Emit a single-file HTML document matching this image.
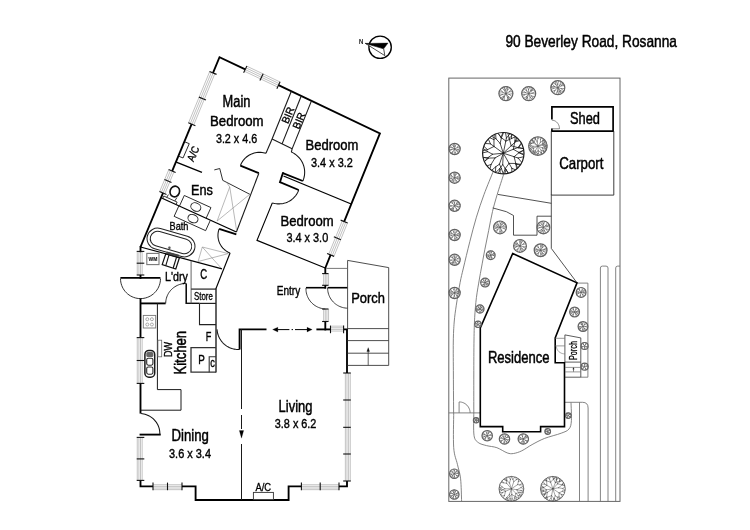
<!DOCTYPE html>
<html><head><meta charset="utf-8"><title>90 Beverley Road, Rosanna</title>
<style>
html,body{margin:0;padding:0;background:#fff;}
body{width:750px;height:530px;overflow:hidden;}
svg{display:block;filter:grayscale(1);}
text{font-family:"Liberation Sans",sans-serif;}
</style></head><body>
<svg width="750" height="530" viewBox="0 0 750 530">
<rect x="0" y="0" width="750" height="530" fill="#fff"/>
<g id="floor">
<path d="M213.02,72.92 L219.5,57.2 L245.25,69.42" fill="none" stroke="#000" stroke-width="1.85" stroke-linejoin="miter" stroke-linecap="butt"/>
<line x1="246.79" y1="66.17" x2="280.03" y2="81.96" stroke="#777" stroke-width="0.45" stroke-linecap="butt"/>
<line x1="245.99" y1="67.86" x2="279.23" y2="83.64" stroke="#777" stroke-width="0.45" stroke-linecap="butt"/>
<line x1="245.19" y1="69.55" x2="278.43" y2="85.33" stroke="#777" stroke-width="0.45" stroke-linecap="butt"/>
<line x1="244.39" y1="71.23" x2="277.63" y2="87.02" stroke="#777" stroke-width="0.45" stroke-linecap="butt"/>
<line x1="246.88" y1="65.99" x2="243.62" y2="72.86" stroke="#111" stroke-width="1.1" stroke-linecap="butt"/>
<line x1="263.16" y1="73.73" x2="259.9" y2="80.59" stroke="#111" stroke-width="1.1" stroke-linecap="butt"/>
<line x1="280.12" y1="81.78" x2="276.86" y2="88.64" stroke="#111" stroke-width="1.1" stroke-linecap="butt"/>
<path d="M278.49,85.21 L379.93,133.38 L344.15,221.56" fill="none" stroke="#000" stroke-width="1.85" stroke-linejoin="miter" stroke-linecap="butt"/>
<line x1="347.48" y1="222.91" x2="333.94" y2="256.3" stroke="#777" stroke-width="0.45" stroke-linecap="butt"/>
<line x1="345.75" y1="222.21" x2="332.21" y2="255.59" stroke="#777" stroke-width="0.45" stroke-linecap="butt"/>
<line x1="344.02" y1="221.51" x2="330.48" y2="254.89" stroke="#777" stroke-width="0.45" stroke-linecap="butt"/>
<line x1="342.29" y1="220.8" x2="328.75" y2="254.19" stroke="#777" stroke-width="0.45" stroke-linecap="butt"/>
<line x1="347.67" y1="222.98" x2="340.63" y2="220.13" stroke="#111" stroke-width="1.1" stroke-linecap="butt"/>
<line x1="340.89" y1="239.68" x2="333.85" y2="236.82" stroke="#111" stroke-width="1.1" stroke-linecap="butt"/>
<line x1="334.12" y1="256.37" x2="327.08" y2="253.51" stroke="#111" stroke-width="1.1" stroke-linecap="butt"/>
<line x1="330.6" y1="254.94" x2="325.3" y2="268" stroke="#000" stroke-width="1.85" stroke-linecap="butt"/>
<line x1="214.87" y1="73.68" x2="193.72" y2="124.99" stroke="#777" stroke-width="0.45" stroke-linecap="butt"/>
<line x1="213.15" y1="72.97" x2="192" y2="124.28" stroke="#777" stroke-width="0.45" stroke-linecap="butt"/>
<line x1="211.42" y1="72.26" x2="190.27" y2="123.57" stroke="#777" stroke-width="0.45" stroke-linecap="butt"/>
<line x1="209.69" y1="71.55" x2="188.54" y2="122.86" stroke="#777" stroke-width="0.45" stroke-linecap="butt"/>
<line x1="216.54" y1="74.37" x2="209.51" y2="71.47" stroke="#111" stroke-width="1.1" stroke-linecap="butt"/>
<line x1="205.96" y1="100.02" x2="198.93" y2="97.13" stroke="#111" stroke-width="1.1" stroke-linecap="butt"/>
<line x1="195.39" y1="125.68" x2="188.36" y2="122.78" stroke="#111" stroke-width="1.1" stroke-linecap="butt"/>
<line x1="191.62" y1="124.19" x2="172.12" y2="171.04" stroke="#000" stroke-width="1.85" stroke-linecap="butt"/>
<line x1="173.96" y1="171.81" x2="164.81" y2="193.8" stroke="#777" stroke-width="0.45" stroke-linecap="butt"/>
<line x1="172.24" y1="171.09" x2="163.08" y2="193.09" stroke="#777" stroke-width="0.45" stroke-linecap="butt"/>
<line x1="170.52" y1="170.38" x2="161.36" y2="192.37" stroke="#777" stroke-width="0.45" stroke-linecap="butt"/>
<line x1="168.79" y1="169.66" x2="159.64" y2="191.65" stroke="#777" stroke-width="0.45" stroke-linecap="butt"/>
<line x1="175.62" y1="172.5" x2="168.61" y2="169.58" stroke="#111" stroke-width="1.1" stroke-linecap="butt"/>
<line x1="171.5" y1="182.4" x2="164.49" y2="179.48" stroke="#111" stroke-width="1.1" stroke-linecap="butt"/>
<line x1="166.47" y1="194.5" x2="159.45" y2="191.58" stroke="#111" stroke-width="1.1" stroke-linecap="butt"/>
<line x1="162.96" y1="193.04" x2="140.5" y2="247" stroke="#000" stroke-width="1.85" stroke-linecap="butt"/>
<line x1="291.32" y1="91.3" x2="272.09" y2="138.99" stroke="#1a1a1a" stroke-width="1.1" stroke-linecap="butt"/>
<line x1="301.25" y1="96.02" x2="282.08" y2="143.85" stroke="#1a1a1a" stroke-width="1.1" stroke-linecap="butt"/>
<line x1="311.46" y1="100.87" x2="292.12" y2="148.84" stroke="#1a1a1a" stroke-width="1.1" stroke-linecap="butt"/>
<line x1="272.09" y1="138.99" x2="292.12" y2="148.84" stroke="#1a1a1a" stroke-width="1.1" stroke-linecap="butt"/>
<line x1="272.09" y1="138.99" x2="265.96" y2="153.33" stroke="#1a1a1a" stroke-width="1.1" stroke-linecap="butt"/>
<line x1="258.86" y1="173.18" x2="240.38" y2="165.61" stroke="#000" stroke-width="1.85" stroke-linecap="butt"/>
<path d="M240.38,165.61 L240.86,164.43 L241.41,163.28 L242.03,162.17 L242.73,161.1 L243.49,160.06 L244.33,159.08 L245.22,158.15 L246.17,157.28 L247.18,156.47 L248.24,155.72 L249.35,155.04 L250.51,154.43 L251.7,153.89 L252.92,153.43 L254.18,153.05 L255.46,152.75 L256.76,152.53 L258.08,152.39 L259.4,152.34 L260.73,152.37 L262.05,152.48 L263.37,152.68 L264.68,152.96 L265.96,153.33" fill="none" stroke="#111" stroke-width="1.05" stroke-linejoin="round" stroke-linecap="butt"/>
<line x1="258.86" y1="173.18" x2="236.4" y2="232" stroke="#1a1a1a" stroke-width="1.1" stroke-linecap="butt"/>
<line x1="292.12" y1="148.84" x2="291.35" y2="152.01" stroke="#1a1a1a" stroke-width="1.1" stroke-linecap="butt"/>
<line x1="282.88" y1="173.08" x2="302.84" y2="181.01" stroke="#000" stroke-width="1.85" stroke-linecap="butt"/>
<path d="M302.84,181.01 L303.36,179.71 L303.8,178.37 L304.15,177 L304.41,175.61 L304.58,174.21 L304.66,172.79 L304.65,171.36 L304.54,169.94 L304.34,168.52 L304.05,167.12 L303.66,165.73 L303.18,164.37 L302.62,163.04 L301.97,161.75 L301.23,160.5 L300.41,159.3 L299.51,158.15 L298.54,157.06 L297.49,156.03 L296.38,155.08 L295.21,154.19 L293.97,153.38 L292.69,152.65 L291.35,152.01" fill="none" stroke="#111" stroke-width="1.05" stroke-linejoin="round" stroke-linecap="butt"/>
<line x1="282.88" y1="173.08" x2="279.98" y2="182.21" stroke="#000" stroke-width="1.85" stroke-linecap="square"/>
<line x1="279.98" y1="182.21" x2="298.7" y2="189.99" stroke="#000" stroke-width="1.85" stroke-linecap="butt"/>
<path d="M298.7,189.99 L298.24,191.2 L297.69,192.38 L297.07,193.53 L296.37,194.65 L295.6,195.71 L294.76,196.73 L293.85,197.7 L292.88,198.61 L291.85,199.46 L290.77,200.25 L289.63,200.97 L288.44,201.61 L287.21,202.18 L285.94,202.67 L284.64,203.08 L283.31,203.41 L281.96,203.65 L280.59,203.81 L279.21,203.88 L277.82,203.86 L276.44,203.75 L275.05,203.55 L273.68,203.27 L272.32,202.89" fill="none" stroke="#111" stroke-width="1.05" stroke-linejoin="round" stroke-linecap="butt"/>
<line x1="283.5" y1="176" x2="351.2" y2="204" stroke="#000" stroke-width="1.3" stroke-linecap="butt"/>
<path d="M272.32,202.89 L257,240.4 L325.3,268" fill="none" stroke="#000" stroke-width="1.15" stroke-linejoin="miter" stroke-linecap="butt"/>
<line x1="176.25" y1="162.14" x2="201.96" y2="172.35" stroke="#000" stroke-width="1.5" stroke-linecap="butt"/>
<path d="M214.3,169.92 L219.74,168.52 L222.75,180.35 L249.92,194.35" fill="none" stroke="#1a1a1a" stroke-width="0.9" stroke-linejoin="miter" stroke-linecap="butt"/>
<line x1="161.6" y1="198" x2="236.4" y2="232" stroke="#000" stroke-width="1.35" stroke-linecap="butt"/>
<line x1="229.74" y1="186.98" x2="217.12" y2="221.01" stroke="#8a8a8a" stroke-width="0.6" stroke-linecap="butt"/>
<line x1="229.74" y1="186.98" x2="236.52" y2="230" stroke="#8a8a8a" stroke-width="0.6" stroke-linecap="butt"/>
<line x1="249.7" y1="194.36" x2="217.12" y2="221.01" stroke="#8a8a8a" stroke-width="0.6" stroke-linecap="butt"/>
<line x1="226.56" y1="182.38" x2="229.74" y2="186.98" stroke="#8a8a8a" stroke-width="0.6" stroke-linecap="butt"/>
<line x1="236.35" y1="234.34" x2="219.14" y2="228.93" stroke="#000" stroke-width="1.85" stroke-linecap="butt"/>
<path d="M219.14,228.93 L218.76,230.04 L218.45,231.17 L218.21,232.33 L218.05,233.5 L217.97,234.68 L217.96,235.87 L218.03,237.07 L218.17,238.26 L218.4,239.45 L218.7,240.62 L219.08,241.77 L219.53,242.9 L220.06,244.01 L220.66,245.08 L221.33,246.11 L222.07,247.1 L222.87,248.05 L223.74,248.94 L224.67,249.78 L225.65,250.56 L226.68,251.28 L227.77,251.93 L228.89,252.51 L230.06,253.02" fill="none" stroke="#111" stroke-width="1.05" stroke-linejoin="round" stroke-linecap="butt"/>
<line x1="230.06" y1="253.02" x2="215.8" y2="289" stroke="#000" stroke-width="1.15" stroke-linecap="butt"/>
<path d="M198.1,261.5 L202.3,247 L228.3,253.6" fill="none" stroke="#8a8a8a" stroke-width="0.6" stroke-linejoin="miter" stroke-linecap="butt"/>
<line x1="202.3" y1="247" x2="221.7" y2="268.7" stroke="#8a8a8a" stroke-width="0.6" stroke-linecap="butt"/>
<line x1="228.3" y1="253.6" x2="198.1" y2="261.5" stroke="#8a8a8a" stroke-width="0.6" stroke-linecap="butt"/>
<line x1="140.5" y1="247" x2="222" y2="268.9" stroke="#000" stroke-width="1.2" stroke-linecap="butt"/>
<path d="M184.81,141.88 L189.26,143.66 L183.05,157.96 L178.87,156.3" fill="none" stroke="#222" stroke-width="0.95" stroke-linejoin="miter" stroke-linecap="butt"/>
<ellipse cx="174.8" cy="191.5" rx="4.7" ry="5.4" transform="rotate(20 174.8 191.5)" fill="none" stroke="#111" stroke-width="1.6"/>
<path d="M162.69,198.5 L163.81,196.04 L177.1,202.08 L175.98,204.54" fill="none" stroke="#222" stroke-width="0.9" stroke-linejoin="miter" stroke-linecap="butt"/>
<line x1="166.72" y1="197.36" x2="168.4" y2="194.6" stroke="#222" stroke-width="0.9" stroke-linecap="butt"/>
<line x1="174.73" y1="201" x2="176.9" y2="197.6" stroke="#222" stroke-width="0.9" stroke-linecap="butt"/>
<path d="M179.44,206.11 L184.28,195.46 L210.96,207.58 L206.12,218.23" fill="none" stroke="#222" stroke-width="0.95" stroke-linejoin="miter" stroke-linecap="butt"/>
<path d="M178.9,205.86 L174.14,216.33 L205.64,230.65 L210.4,220.18" fill="none" stroke="#222" stroke-width="0.95" stroke-linejoin="miter" stroke-linecap="butt"/>
<ellipse cx="195.81" cy="207.07" rx="5.2" ry="4" transform="rotate(24.4 195.81 207.07)" fill="none" stroke="#222" stroke-width="0.95"/>
<ellipse cx="192.97" cy="218.63" rx="5.2" ry="4" transform="rotate(24.4 192.97 218.63)" fill="none" stroke="#222" stroke-width="0.95"/>
<rect x="146.5" y="232" width="49" height="21" rx="10.5" ry="10.5" transform="rotate(16 171 242.5)" fill="none" stroke="#222" stroke-width="1"/>
<rect x="149.7" y="235.1" width="42.6" height="14.8" rx="7.4" ry="7.4" transform="rotate(16 171 242.5)" fill="none" stroke="#222" stroke-width="1"/>
<circle cx="169.4" cy="247.7" r="1.2" fill="#555" stroke="#555" stroke-width="0.1"/>
<rect x="146.8" y="253.4" width="12.2" height="11.2" fill="none" stroke="#777" stroke-width="1.1"/>
<text x="153" y="261.2" font-size="5" fill="#222" text-anchor="middle" font-weight="bold" stroke="#222" stroke-width="0.15" textLength="8.8" lengthAdjust="spacingAndGlyphs">WM</text>
<path d="M165.8,253.8 L179.4,257.8 L175.8,269 L162.2,264.6 Z" fill="none" stroke="#111" stroke-width="1.2" stroke-linejoin="miter" stroke-linecap="butt"/>
<line x1="169" y1="254.9" x2="165.8" y2="265.6" stroke="#111" stroke-width="1.1" stroke-linecap="butt"/>
<line x1="176.6" y1="257" x2="173.2" y2="268" stroke="#111" stroke-width="1.1" stroke-linecap="butt"/>
<line x1="166.6" y1="252.6" x2="178.8" y2="255.9" stroke="#444" stroke-width="2.4" stroke-linecap="butt"/>
<line x1="140.5" y1="247" x2="140.5" y2="251.4" stroke="#000" stroke-width="1.85" stroke-linecap="square"/>
<line x1="142.15" y1="251.4" x2="142.15" y2="275" stroke="#777" stroke-width="0.45" stroke-linecap="butt"/>
<line x1="140.52" y1="251.4" x2="140.52" y2="275" stroke="#777" stroke-width="0.45" stroke-linecap="butt"/>
<line x1="138.88" y1="251.4" x2="138.88" y2="275" stroke="#777" stroke-width="0.45" stroke-linecap="butt"/>
<line x1="137.25" y1="251.4" x2="137.25" y2="275" stroke="#777" stroke-width="0.45" stroke-linecap="butt"/>
<line x1="144.3" y1="251.4" x2="136.7" y2="251.4" stroke="#111" stroke-width="1.1" stroke-linecap="butt"/>
<line x1="144.3" y1="263.2" x2="136.7" y2="263.2" stroke="#111" stroke-width="1.1" stroke-linecap="butt"/>
<line x1="144.3" y1="275" x2="136.7" y2="275" stroke="#111" stroke-width="1.1" stroke-linecap="butt"/>
<line x1="140.5" y1="275" x2="140.5" y2="278.9" stroke="#000" stroke-width="1.85" stroke-linecap="butt"/>
<line x1="120.4" y1="277.9" x2="160.4" y2="277.9" stroke="#000" stroke-width="1.85" stroke-linecap="butt"/>
<path d="M160.5,278.6 L160.42,280.34 L160.2,282.07 L159.82,283.78 L159.29,285.44 L158.63,287.05 L157.82,288.6 L156.88,290.07 L155.82,291.46 L154.64,292.74 L153.36,293.92 L151.97,294.98 L150.5,295.92 L148.95,296.73 L147.34,297.39 L145.68,297.92 L143.97,298.3 L142.24,298.52 L140.5,298.6 L138.76,298.52 L137.03,298.3 L135.32,297.92 L133.66,297.39 L132.05,296.73 L130.5,295.92 L129.03,294.98 L127.64,293.92 L126.36,292.74 L125.18,291.46 L124.12,290.07 L123.18,288.6 L122.37,287.05 L121.71,285.44 L121.18,283.78 L120.8,282.07 L120.58,280.34 L120.5,278.6" fill="none" stroke="#1a1a1a" stroke-width="0.9" stroke-linejoin="round" stroke-linecap="butt"/>
<line x1="140.5" y1="298.4" x2="140.5" y2="337.6" stroke="#000" stroke-width="1.85" stroke-linecap="butt"/>
<line x1="142.15" y1="337.6" x2="142.15" y2="383.4" stroke="#777" stroke-width="0.45" stroke-linecap="butt"/>
<line x1="140.52" y1="337.6" x2="140.52" y2="383.4" stroke="#777" stroke-width="0.45" stroke-linecap="butt"/>
<line x1="138.88" y1="337.6" x2="138.88" y2="383.4" stroke="#777" stroke-width="0.45" stroke-linecap="butt"/>
<line x1="137.25" y1="337.6" x2="137.25" y2="383.4" stroke="#777" stroke-width="0.45" stroke-linecap="butt"/>
<line x1="144.3" y1="337.6" x2="136.7" y2="337.6" stroke="#111" stroke-width="1.1" stroke-linecap="butt"/>
<line x1="144.3" y1="360.5" x2="136.7" y2="360.5" stroke="#111" stroke-width="1.1" stroke-linecap="butt"/>
<line x1="144.3" y1="383.4" x2="136.7" y2="383.4" stroke="#111" stroke-width="1.1" stroke-linecap="butt"/>
<line x1="140.5" y1="383.4" x2="140.5" y2="413.6" stroke="#000" stroke-width="1.85" stroke-linecap="butt"/>
<line x1="140.5" y1="434.6" x2="159.8" y2="434.6" stroke="#000" stroke-width="1.85" stroke-linecap="square"/>
<path d="M159.8,434.6 L159.83,433.36 L159.78,432.11 L159.65,430.86 L159.44,429.62 L159.15,428.39 L158.78,427.18 L158.33,425.99 L157.8,424.83 L157.2,423.7 L156.52,422.61 L155.77,421.56 L154.95,420.55 L154.07,419.6 L153.12,418.71 L152.12,417.87 L151.05,417.1 L149.94,416.39 L148.78,415.76 L147.58,415.2 L146.34,414.72 L145.07,414.31 L143.76,413.99 L142.44,413.75 L141.1,413.6" fill="none" stroke="#111" stroke-width="1.05" stroke-linejoin="round" stroke-linecap="butt"/>
<line x1="142.15" y1="437.4" x2="142.15" y2="480.4" stroke="#777" stroke-width="0.45" stroke-linecap="butt"/>
<line x1="140.52" y1="437.4" x2="140.52" y2="480.4" stroke="#777" stroke-width="0.45" stroke-linecap="butt"/>
<line x1="138.88" y1="437.4" x2="138.88" y2="480.4" stroke="#777" stroke-width="0.45" stroke-linecap="butt"/>
<line x1="137.25" y1="437.4" x2="137.25" y2="480.4" stroke="#777" stroke-width="0.45" stroke-linecap="butt"/>
<line x1="144.3" y1="437.4" x2="136.7" y2="437.4" stroke="#111" stroke-width="1.1" stroke-linecap="butt"/>
<line x1="144.3" y1="458.9" x2="136.7" y2="458.9" stroke="#111" stroke-width="1.1" stroke-linecap="butt"/>
<line x1="144.3" y1="480.4" x2="136.7" y2="480.4" stroke="#111" stroke-width="1.1" stroke-linecap="butt"/>
<path d="M140.5,480.4 L140.5,486.4 L153,486.4" fill="none" stroke="#000" stroke-width="1.85" stroke-linejoin="miter" stroke-linecap="butt"/>
<line x1="153" y1="484.75" x2="182" y2="484.75" stroke="#777" stroke-width="0.45" stroke-linecap="butt"/>
<line x1="153" y1="486.38" x2="182" y2="486.38" stroke="#777" stroke-width="0.45" stroke-linecap="butt"/>
<line x1="153" y1="488.02" x2="182" y2="488.02" stroke="#777" stroke-width="0.45" stroke-linecap="butt"/>
<line x1="153" y1="489.65" x2="182" y2="489.65" stroke="#777" stroke-width="0.45" stroke-linecap="butt"/>
<line x1="153" y1="482.6" x2="153" y2="490.2" stroke="#111" stroke-width="1.1" stroke-linecap="butt"/>
<line x1="167.5" y1="482.6" x2="167.5" y2="490.2" stroke="#111" stroke-width="1.1" stroke-linecap="butt"/>
<line x1="182" y1="482.6" x2="182" y2="490.2" stroke="#111" stroke-width="1.1" stroke-linecap="butt"/>
<path d="M182,486.4 L195.6,486.4 L195.6,500 L288.6,500 L288.6,486.4 L301.4,486.4" fill="none" stroke="#000" stroke-width="1.85" stroke-linejoin="miter" stroke-linecap="butt"/>
<line x1="301.4" y1="484.75" x2="339" y2="484.75" stroke="#777" stroke-width="0.45" stroke-linecap="butt"/>
<line x1="301.4" y1="486.38" x2="339" y2="486.38" stroke="#777" stroke-width="0.45" stroke-linecap="butt"/>
<line x1="301.4" y1="488.02" x2="339" y2="488.02" stroke="#777" stroke-width="0.45" stroke-linecap="butt"/>
<line x1="301.4" y1="489.65" x2="339" y2="489.65" stroke="#777" stroke-width="0.45" stroke-linecap="butt"/>
<line x1="301.4" y1="482.6" x2="301.4" y2="490.2" stroke="#111" stroke-width="1.1" stroke-linecap="butt"/>
<line x1="320.2" y1="482.6" x2="320.2" y2="490.2" stroke="#111" stroke-width="1.1" stroke-linecap="butt"/>
<line x1="339" y1="482.6" x2="339" y2="490.2" stroke="#111" stroke-width="1.1" stroke-linecap="butt"/>
<path d="M339,486.4 L347,486.4 L347,481" fill="none" stroke="#000" stroke-width="1.85" stroke-linejoin="miter" stroke-linecap="butt"/>
<line x1="345.35" y1="481" x2="345.35" y2="373" stroke="#777" stroke-width="0.45" stroke-linecap="butt"/>
<line x1="346.98" y1="481" x2="346.98" y2="373" stroke="#777" stroke-width="0.45" stroke-linecap="butt"/>
<line x1="348.62" y1="481" x2="348.62" y2="373" stroke="#777" stroke-width="0.45" stroke-linecap="butt"/>
<line x1="350.25" y1="481" x2="350.25" y2="373" stroke="#777" stroke-width="0.45" stroke-linecap="butt"/>
<line x1="343.2" y1="481" x2="350.8" y2="481" stroke="#111" stroke-width="1.1" stroke-linecap="butt"/>
<line x1="343.2" y1="454" x2="350.8" y2="454" stroke="#111" stroke-width="1.1" stroke-linecap="butt"/>
<line x1="343.2" y1="427.32" x2="350.8" y2="427.32" stroke="#111" stroke-width="1.1" stroke-linecap="butt"/>
<line x1="343.2" y1="400" x2="350.8" y2="400" stroke="#111" stroke-width="1.1" stroke-linecap="butt"/>
<line x1="343.2" y1="373" x2="350.8" y2="373" stroke="#111" stroke-width="1.1" stroke-linecap="butt"/>
<path d="M347,373 L347,329.4 L343.6,329.4" fill="none" stroke="#000" stroke-width="1.85" stroke-linejoin="miter" stroke-linecap="butt"/>
<line x1="343.6" y1="331.05" x2="330.5" y2="331.05" stroke="#777" stroke-width="0.45" stroke-linecap="butt"/>
<line x1="343.6" y1="329.42" x2="330.5" y2="329.42" stroke="#777" stroke-width="0.45" stroke-linecap="butt"/>
<line x1="343.6" y1="327.78" x2="330.5" y2="327.78" stroke="#777" stroke-width="0.45" stroke-linecap="butt"/>
<line x1="343.6" y1="326.15" x2="330.5" y2="326.15" stroke="#777" stroke-width="0.45" stroke-linecap="butt"/>
<line x1="343.6" y1="333.2" x2="343.6" y2="325.6" stroke="#111" stroke-width="1.1" stroke-linecap="butt"/>
<line x1="330.5" y1="333.2" x2="330.5" y2="325.6" stroke="#111" stroke-width="1.1" stroke-linecap="butt"/>
<path d="M330.5,329.4 L316.4,329.4" fill="none" stroke="#000" stroke-width="1.85" stroke-linejoin="miter" stroke-linecap="butt"/>
<line x1="325.3" y1="330.4" x2="325.3" y2="321.5" stroke="#000" stroke-width="1.85" stroke-linecap="butt"/>
<line x1="323.65" y1="321.5" x2="323.65" y2="309" stroke="#777" stroke-width="0.45" stroke-linecap="butt"/>
<line x1="325.28" y1="321.5" x2="325.28" y2="309" stroke="#777" stroke-width="0.45" stroke-linecap="butt"/>
<line x1="326.92" y1="321.5" x2="326.92" y2="309" stroke="#777" stroke-width="0.45" stroke-linecap="butt"/>
<line x1="328.55" y1="321.5" x2="328.55" y2="309" stroke="#777" stroke-width="0.45" stroke-linecap="butt"/>
<line x1="322.1" y1="321.5" x2="328.5" y2="321.5" stroke="#111" stroke-width="1.1" stroke-linecap="butt"/>
<line x1="322.1" y1="309" x2="328.5" y2="309" stroke="#111" stroke-width="1.1" stroke-linecap="butt"/>
<line x1="323.65" y1="285.3" x2="323.65" y2="273.6" stroke="#777" stroke-width="0.45" stroke-linecap="butt"/>
<line x1="325.28" y1="285.3" x2="325.28" y2="273.6" stroke="#777" stroke-width="0.45" stroke-linecap="butt"/>
<line x1="326.92" y1="285.3" x2="326.92" y2="273.6" stroke="#777" stroke-width="0.45" stroke-linecap="butt"/>
<line x1="328.55" y1="285.3" x2="328.55" y2="273.6" stroke="#777" stroke-width="0.45" stroke-linecap="butt"/>
<line x1="322.1" y1="285.3" x2="328.5" y2="285.3" stroke="#111" stroke-width="1.1" stroke-linecap="butt"/>
<line x1="322.1" y1="273.6" x2="328.5" y2="273.6" stroke="#111" stroke-width="1.1" stroke-linecap="butt"/>
<line x1="325.3" y1="273.6" x2="325.3" y2="267.6" stroke="#000" stroke-width="1.85" stroke-linecap="butt"/>
<line x1="325.3" y1="285.3" x2="325.3" y2="288.6" stroke="#000" stroke-width="1.85" stroke-linecap="butt"/>
<line x1="306" y1="287.7" x2="325.9" y2="287.7" stroke="#000" stroke-width="1.6" stroke-linecap="butt"/>
<line x1="327.6" y1="287.7" x2="347.6" y2="287.7" stroke="#000" stroke-width="1.6" stroke-linecap="butt"/>
<path d="M306,287.9 L305.97,289.16 L306.03,290.42 L306.17,291.68 L306.39,292.93 L306.69,294.17 L307.07,295.4 L307.54,296.6 L308.08,297.78 L308.71,298.92 L309.41,300.03 L310.18,301.09 L311.02,302.1 L311.93,303.06 L312.91,303.96 L313.95,304.81 L315.04,305.58 L316.19,306.29 L317.39,306.92 L318.63,307.47 L319.9,307.95 L321.22,308.34 L322.56,308.65 L323.92,308.87 L325.3,309" fill="none" stroke="#2a2a2a" stroke-width="0.9" stroke-linejoin="round" stroke-linecap="butt"/>
<path d="M327.6,287.9 L327.64,289.2 L327.76,290.49 L327.96,291.77 L328.25,293.05 L328.62,294.3 L329.07,295.52 L329.6,296.72 L330.21,297.88 L330.89,298.99 L331.64,300.07 L332.46,301.09 L333.35,302.06 L334.3,302.97 L335.31,303.82 L336.38,304.61 L337.49,305.32 L338.65,305.96 L339.84,306.52 L341.08,307.01 L342.34,307.42 L343.63,307.74 L344.94,307.98 L346.27,308.13 L347.6,308.2" fill="none" stroke="#2a2a2a" stroke-width="0.9" stroke-linejoin="round" stroke-linecap="butt"/>
<path d="M239.6,349.4 L239.6,329.4 L266.5,329.4" fill="none" stroke="#000" stroke-width="1.9" stroke-linejoin="miter" stroke-linecap="butt"/>
<line x1="241.5" y1="329.4" x2="241.5" y2="409" stroke="#1a1a1a" stroke-width="1" stroke-linecap="butt"/>
<line x1="241.5" y1="415" x2="241.5" y2="429" stroke="#1a1a1a" stroke-width="1" stroke-linecap="butt"/>
<line x1="241.5" y1="444" x2="241.5" y2="500" stroke="#1a1a1a" stroke-width="1" stroke-linecap="butt"/>
<path d="M241.5,438.2 L239.3,430.6 L243.7,430.6 Z" fill="#000" stroke="#000" stroke-width="0.2" stroke-linejoin="miter" stroke-linecap="butt"/>
<path d="M272.6,329.6 L277.9,327.2 L277.9,332 Z" fill="#000" stroke="#000" stroke-width="0.2" stroke-linejoin="miter" stroke-linecap="butt"/>
<line x1="277.7" y1="329.6" x2="289.4" y2="329.6" stroke="#000" stroke-width="1" stroke-linecap="butt"/>
<line x1="291.6" y1="329.6" x2="293" y2="329.6" stroke="#000" stroke-width="1" stroke-linecap="butt"/>
<line x1="295" y1="329.6" x2="307.2" y2="329.6" stroke="#000" stroke-width="1" stroke-linecap="butt"/>
<path d="M312.2,329.6 L307,327.2 L307,332 Z" fill="#000" stroke="#000" stroke-width="0.2" stroke-linejoin="miter" stroke-linecap="butt"/>
<path d="M239.6,349.4 L238.28,349.47 L236.96,349.44 L235.63,349.33 L234.31,349.14 L233,348.85 L231.7,348.48 L230.42,348.02 L229.17,347.47 L227.95,346.84 L226.77,346.13 L225.63,345.33 L224.54,344.46 L223.5,343.52 L222.53,342.5 L221.62,341.41 L220.78,340.27 L220.01,339.06 L219.32,337.8 L218.71,336.49 L218.19,335.14 L217.75,333.75 L217.41,332.32 L217.16,330.87 L217,329.4" fill="none" stroke="#111" stroke-width="1.05" stroke-linejoin="round" stroke-linecap="butt"/>
<path d="M140.5,303.4 L165.6,303.4" fill="none" stroke="#000" stroke-width="1.85" stroke-linejoin="miter" stroke-linecap="butt"/>
<line x1="186.2" y1="283.4" x2="186.2" y2="304" stroke="#000" stroke-width="1.5" stroke-linecap="butt"/>
<path d="M165.7,303.4 L165.74,302.09 L165.88,300.79 L166.1,299.5 L166.4,298.22 L166.79,296.97 L167.27,295.75 L167.82,294.55 L168.46,293.4 L169.17,292.29 L169.96,291.22 L170.81,290.21 L171.73,289.26 L172.72,288.36 L173.76,287.53 L174.86,286.77 L176,286.08 L177.19,285.46 L178.42,284.92 L179.68,284.46 L180.97,284.08 L182.28,283.78 L183.61,283.57 L184.95,283.44 L186.3,283.4" fill="none" stroke="#1a1a1a" stroke-width="0.9" stroke-linejoin="round" stroke-linecap="butt"/>
<line x1="186.2" y1="303.3" x2="199.5" y2="303.3" stroke="#111" stroke-width="1.4" stroke-linecap="butt"/>
<path d="M191.1,260.6 L191.1,303.4" fill="none" stroke="#555" stroke-width="0.9" stroke-linejoin="miter" stroke-linecap="butt"/>
<path d="M191.1,289.1 L216,289.1" fill="none" stroke="#333" stroke-width="1.3" stroke-linejoin="miter" stroke-linecap="butt"/>
<line x1="216" y1="288.6" x2="216" y2="372.6" stroke="#222" stroke-width="1.4" stroke-linecap="butt"/>
<line x1="199.5" y1="303.4" x2="216" y2="303.4" stroke="#222" stroke-width="1.2" stroke-linecap="butt"/>
<path d="M199.5,303.4 L199.5,324.6 L216,324.6" fill="none" stroke="#222" stroke-width="1.1" stroke-linejoin="miter" stroke-linecap="butt"/>
<path d="M216,347.6 L191,347.6 L191,372.2 L216,372.2" fill="none" stroke="#333" stroke-width="1.3" stroke-linejoin="miter" stroke-linecap="butt"/>
<path d="M216,356.8 L209.2,356.8 L209.2,372.2" fill="none" stroke="#333" stroke-width="1.1" stroke-linejoin="miter" stroke-linecap="butt"/>
<path d="M157.4,303.4 L157.4,389.6 L181,389.6 L181,410.2 L140.5,410.2" fill="none" stroke="#1a1a1a" stroke-width="1" stroke-linejoin="miter" stroke-linecap="butt"/>
<rect x="143.3" y="315.4" width="12.4" height="12.6" fill="none" stroke="#777" stroke-width="0.9"/>
<circle cx="147.3" cy="319.2" r="1.5" fill="none" stroke="#777" stroke-width="0.6"/>
<circle cx="147.3" cy="324.5" r="1.5" fill="none" stroke="#777" stroke-width="0.6"/>
<circle cx="151.9" cy="319.2" r="1.5" fill="none" stroke="#777" stroke-width="0.6"/>
<circle cx="151.9" cy="324.5" r="1.5" fill="none" stroke="#777" stroke-width="0.6"/>
<rect x="157.9" y="340.2" width="3.8" height="16.6" fill="none" stroke="#666" stroke-width="0.8"/>
<rect x="144.9" y="350.4" width="9.8" height="26.8" rx="4" ry="4" fill="none" stroke="#1a1a1a" stroke-width="1.5"/>
<rect x="146.3" y="351.9" width="7.0" height="5.0" rx="1.5" ry="1.5" fill="#666" stroke="none"/>
<rect x="146.7" y="358.2" width="6.2" height="7.0" rx="1.6" ry="1.6" fill="none" stroke="#2a2a2a" stroke-width="1.1"/>
<rect x="146.7" y="367.0" width="6.2" height="7.2" rx="1.6" ry="1.6" fill="none" stroke="#2a2a2a" stroke-width="1.1"/>
<rect x="253.4" y="492.4" width="20" height="7.2" fill="#fff" stroke="#333" stroke-width="0.9"/>
<path d="M347.6,329 L347.6,260.4 L388.7,267.6 L388.7,365.4 L347.6,365.4" fill="none" stroke="#3a3a3a" stroke-width="0.9" stroke-linejoin="miter" stroke-linecap="butt"/>
<line x1="326.3" y1="268.4" x2="347.6" y2="268.4" stroke="#666" stroke-width="0.9" stroke-linecap="butt"/>
<line x1="347.6" y1="328.6" x2="388.7" y2="328.6" stroke="#3a3a3a" stroke-width="0.9" stroke-linecap="butt"/>
<line x1="347.6" y1="340.6" x2="388.7" y2="340.6" stroke="#3a3a3a" stroke-width="0.9" stroke-linecap="butt"/>
<line x1="347.6" y1="353.2" x2="388.7" y2="353.2" stroke="#3a3a3a" stroke-width="0.9" stroke-linecap="butt"/>
<line x1="368.2" y1="365.4" x2="368.2" y2="350.5" stroke="#3a3a3a" stroke-width="0.8" stroke-linecap="butt"/>
<path d="M368.2,347.6 L366.8,351.6 L369.6,351.6 Z" fill="#111" stroke="#111" stroke-width="0.2" stroke-linejoin="miter" stroke-linecap="butt"/>
<text x="505.4" y="47.2" font-size="16.1" fill="#000" text-anchor="start" font-weight="normal" stroke="#000" stroke-width="0.48" textLength="171.56" lengthAdjust="spacingAndGlyphs">90 Beverley Road, Rosanna</text>
<text x="222.6" y="106.6" font-size="15.6" fill="#000" text-anchor="start" font-weight="normal" stroke="#000" stroke-width="0.47" textLength="27.79" lengthAdjust="spacingAndGlyphs">Main</text>
<text x="288.1" y="124.3" font-size="10.6" fill="#000" text-anchor="start" font-weight="normal" stroke="#000" stroke-width="0.32" textLength="16.66" lengthAdjust="spacingAndGlyphs" transform="rotate(-67.5 288.1 124.3)">BIR</text>
<text x="299.1" y="129.7" font-size="10.6" fill="#000" text-anchor="start" font-weight="normal" stroke="#000" stroke-width="0.32" textLength="16.66" lengthAdjust="spacingAndGlyphs" transform="rotate(-67.5 299.1 129.7)">BIR</text>
<text x="210" y="125.8" font-size="15.2" fill="#000" text-anchor="start" font-weight="normal" stroke="#000" stroke-width="0.46" textLength="53.6" lengthAdjust="spacingAndGlyphs">Bedroom</text>
<text x="215.9" y="142.6" font-size="13.5" fill="#000" text-anchor="start" font-weight="normal" stroke="#000" stroke-width="0.4" textLength="41.32" lengthAdjust="spacingAndGlyphs">3.2 x 4.6</text>
<text x="305.5" y="150.2" font-size="14.8" fill="#000" text-anchor="start" font-weight="normal" stroke="#000" stroke-width="0.44" textLength="52.88" lengthAdjust="spacingAndGlyphs">Bedroom</text>
<text x="311" y="166.6" font-size="13.5" fill="#000" text-anchor="start" font-weight="normal" stroke="#000" stroke-width="0.4" textLength="41.83" lengthAdjust="spacingAndGlyphs">3.4 x 3.2</text>
<text x="280.6" y="226.4" font-size="14.8" fill="#000" text-anchor="start" font-weight="normal" stroke="#000" stroke-width="0.44" textLength="53.08" lengthAdjust="spacingAndGlyphs">Bedroom</text>
<text x="286.4" y="242.4" font-size="13.5" fill="#000" text-anchor="start" font-weight="normal" stroke="#000" stroke-width="0.4" textLength="41.83" lengthAdjust="spacingAndGlyphs">3.4 x 3.0</text>
<text x="191" y="194.5" font-size="15" fill="#000" text-anchor="start" font-weight="normal" stroke="#000" stroke-width="0.45" textLength="21.88" lengthAdjust="spacingAndGlyphs">Ens</text>
<text x="169.6" y="230" font-size="11.5" fill="#000" text-anchor="start" font-weight="normal" stroke="#000" stroke-width="0.34" textLength="18.83" lengthAdjust="spacingAndGlyphs">Bath</text>
<text x="193.6" y="162.2" font-size="10.8" fill="#000" text-anchor="start" font-weight="normal" stroke="#000" stroke-width="0.32" textLength="15.24" lengthAdjust="spacingAndGlyphs" transform="rotate(-66.5 193.6 162.2)">A/C</text>
<text x="165" y="280.6" font-size="13.3" fill="#000" text-anchor="start" font-weight="normal" stroke="#000" stroke-width="0.4" textLength="22.84" lengthAdjust="spacingAndGlyphs">L'dry</text>
<text x="200.3" y="279.4" font-size="13.9" fill="#000" text-anchor="start" font-weight="normal" stroke="#000" stroke-width="0.42" textLength="6.91" lengthAdjust="spacingAndGlyphs">C</text>
<text x="194" y="299.8" font-size="11.4" fill="#000" text-anchor="start" font-weight="normal" stroke="#000" stroke-width="0.34" textLength="18.76" lengthAdjust="spacingAndGlyphs">Store</text>
<text x="205.7" y="340.5" font-size="13.5" fill="#000" text-anchor="start" font-weight="normal" stroke="#000" stroke-width="0.4" textLength="5.6" lengthAdjust="spacingAndGlyphs">F</text>
<text x="198.2" y="364.3" font-size="13.3" fill="#000" text-anchor="start" font-weight="normal" stroke="#000" stroke-width="0.4" textLength="6.57" lengthAdjust="spacingAndGlyphs">P</text>
<text x="210.3" y="367.2" font-size="12.4" fill="#000" text-anchor="start" font-weight="normal" stroke="#000" stroke-width="0.37" textLength="4.65" lengthAdjust="spacingAndGlyphs">c</text>
<text x="171.5" y="357" font-size="11.6" fill="#000" text-anchor="start" font-weight="normal" stroke="#000" stroke-width="0.35" textLength="14.99" lengthAdjust="spacingAndGlyphs" transform="rotate(-90 171.5 357)">DW</text>
<text x="185.6" y="374.6" font-size="17.4" fill="#000" text-anchor="start" font-weight="normal" stroke="#000" stroke-width="0.52" textLength="43.77" lengthAdjust="spacingAndGlyphs" transform="rotate(-90 185.6 374.6)">Kitchen</text>
<text x="276.7" y="294.9" font-size="12.2" fill="#000" text-anchor="start" font-weight="normal" stroke="#000" stroke-width="0.37" textLength="23.47" lengthAdjust="spacingAndGlyphs">Entry</text>
<text x="351.2" y="302.8" font-size="15.2" fill="#000" text-anchor="start" font-weight="normal" stroke="#000" stroke-width="0.46" textLength="33.77" lengthAdjust="spacingAndGlyphs">Porch</text>
<text x="278.6" y="411.6" font-size="15.8" fill="#000" text-anchor="start" font-weight="normal" stroke="#000" stroke-width="0.47" textLength="33.82" lengthAdjust="spacingAndGlyphs">Living</text>
<text x="274.8" y="427.9" font-size="13.6" fill="#000" text-anchor="start" font-weight="normal" stroke="#000" stroke-width="0.41" textLength="41.61" lengthAdjust="spacingAndGlyphs">3.8 x 6.2</text>
<text x="171.5" y="441.3" font-size="15.7" fill="#000" text-anchor="start" font-weight="normal" stroke="#000" stroke-width="0.47" textLength="37.42" lengthAdjust="spacingAndGlyphs">Dining</text>
<text x="169" y="457.6" font-size="13.6" fill="#000" text-anchor="start" font-weight="normal" stroke="#000" stroke-width="0.41" textLength="42.01" lengthAdjust="spacingAndGlyphs">3.6 x 3.4</text>
<text x="255.4" y="491" font-size="10.7" fill="#000" text-anchor="start" font-weight="normal" stroke="#000" stroke-width="0.32" textLength="15.64" lengthAdjust="spacingAndGlyphs">A/C</text>
</g>
<g id="site">
<rect x="448.8" y="78.1" width="171.2" height="423.3" fill="none" stroke="#666" stroke-width="1.0"/>
<path d="M551.9,119.4 L551.9,106.8 L613.1,106.8 L613.1,131.2 L551.9,131.2 L551.9,128.6" fill="none" stroke="#000" stroke-width="1.7" stroke-linejoin="miter" stroke-linecap="butt"/>
<line x1="551.4" y1="128.8" x2="559.4" y2="128.8" stroke="#666" stroke-width="0.8" stroke-linecap="butt"/>
<path d="M551.9,120.2 L552.89,120.27 L553.87,120.49 L554.81,120.85 L555.7,121.35 L556.53,121.98 L557.27,122.72 L557.93,123.56 L558.48,124.5 L558.92,125.51 L559.24,126.57 L559.43,127.68 L559.5,128.8" fill="none" stroke="#666" stroke-width="0.8" stroke-linejoin="round" stroke-linecap="butt"/>
<path d="M551.3,131.2 L551.3,195.1 L613.8,195.1 L613.8,131.2" fill="none" stroke="#333" stroke-width="0.95" stroke-linejoin="miter" stroke-linecap="butt"/>
<path d="M493.5,170.8 C491.92,174.75 486.85,186.77 484,194.5 C481.15,202.23 478.77,209.33 476.4,217.2 C474.03,225.07 471.97,233.23 469.8,241.7 C467.63,250.17 465.02,261.18 463.4,268 C461.78,274.82 461.28,276.4 460.1,282.6 C458.92,288.8 457.28,298.63 456.3,305.2 C455.32,311.77 454.7,315.87 454.2,322 C453.7,328.13 453.43,333.17 453.3,342 C453.17,350.83 453.35,363.18 453.4,375 C453.45,386.82 453.57,406.58 453.6,412.9" fill="none" stroke="#6e6e6e" stroke-width="0.85"/>
<path d="M503.6,174.5 C502.53,177.83 499.05,188.33 497.2,194.5 C495.35,200.67 493.92,205.52 492.5,211.5 C491.08,217.48 489.97,224.12 488.7,230.4 C487.43,236.68 486.12,242.93 484.9,249.2 C483.68,255.47 482.32,263.03 481.4,268 C480.48,272.97 480.23,274.05 479.4,279 C478.57,283.95 477.18,291.32 476.4,297.7 C475.62,304.08 475.1,310.25 474.7,317.3 C474.3,324.35 474.15,330.38 474,340 C473.85,349.62 473.83,362.85 473.8,375 C473.77,387.15 473.8,406.58 473.8,412.9" fill="none" stroke="#6e6e6e" stroke-width="0.85"/>
<path d="M453.7,412.9 C453.7,418.7 453.08,439.13 453.7,447.7 C454.32,456.27 456.25,459.12 457.4,464.3 C458.55,469.48 459.9,472.65 460.6,478.8 C461.3,484.95 461.43,497.47 461.6,501.2" fill="none" stroke="#6e6e6e" stroke-width="0.85"/>
<line x1="448.8" y1="412.9" x2="480.3" y2="412.9" stroke="#6e6e6e" stroke-width="0.85" stroke-linecap="butt"/>
<line x1="459.1" y1="402" x2="459.1" y2="412.9" stroke="#6e6e6e" stroke-width="0.85" stroke-linecap="butt"/>
<path d="M459.1,401.9 L460.33,401.97 L461.55,402.18 L462.73,402.52 L463.87,402.99 L464.95,403.59 L465.96,404.3 L466.88,405.12 L467.7,406.04 L468.41,407.05 L469.01,408.13 L469.48,409.27 L469.82,410.45 L470.03,411.67 L470.1,412.9" fill="none" stroke="#6e6e6e" stroke-width="0.85" stroke-linejoin="round" stroke-linecap="butt"/>
<path d="M473.8,412.9 C473.83,416.63 473.27,430.37 474,435.3 C474.73,440.23 476.12,440.78 478.2,442.5 C480.28,444.22 483.38,444.73 486.5,445.6 C489.62,446.47 493.45,446.48 496.9,447.7 C500.35,448.92 504.43,451.93 507.2,452.9 C509.97,453.87 511.07,453.85 513.5,453.5 C515.93,453.15 518.7,452.28 521.8,450.8 C524.9,449.32 528.3,446.67 532.1,444.6 C535.9,442.53 539.75,440.3 544.6,438.4 C549.45,436.5 557.13,434.77 561.2,433.2 C565.27,431.63 567.3,431.08 569,429 C570.7,426.92 571.07,425.13 571.4,420.7 C571.73,416.27 571.07,405.45 571,402.4" fill="none" stroke="#6e6e6e" stroke-width="0.85"/>
<line x1="497.8" y1="194.4" x2="551.3" y2="203.3" stroke="#333" stroke-width="0.85" stroke-linecap="butt"/>
<path d="M492.7,207.9 L506.4,211.7 L513.5,215.5 L513.5,235.2 L537,235.2 L537,216.2 L551.3,216.2" fill="none" stroke="#333" stroke-width="0.85" stroke-linejoin="miter" stroke-linecap="butt"/>
<path d="M551.3,194.6 L551.3,248.4 L577,282.8" fill="none" stroke="#333" stroke-width="0.85" stroke-linejoin="miter" stroke-linecap="butt"/>
<path d="M577.3,283.1 L587.9,283.1 L587.9,377.2 L580.8,377.2" fill="none" stroke="#6e6e6e" stroke-width="0.85" stroke-linejoin="miter" stroke-linecap="butt"/>
<path d="M600.4,501.4 L600.4,268 Q600.4,266.1 602.4,266.1 L606,266.1 Q608,266.1 608,268 L608,501.4" fill="none" stroke="#6e6e6e" stroke-width="0.85"/>
<path d="M615.7,501.4 L615.7,268 Q615.7,266.1 617.7,266.1 L620,266.1" fill="none" stroke="#6e6e6e" stroke-width="0.85"/>
<path d="M564.9,402.3 L582.5,402.3 Q588.1,402.3 588.1,408 L588.1,501.4" fill="none" stroke="#6e6e6e" stroke-width="0.85"/>
<line x1="579.5" y1="402.3" x2="579.5" y2="501.4" stroke="#6e6e6e" stroke-width="0.85" stroke-linecap="butt"/>
<path d="M512.7,253.5 L577,282.8 L555.2,337.9 L555.2,362.7 L564.5,362.7 L564.5,426.6 L540.6,426.6 L540.6,431.8 L502.7,431.8 L502.7,426.6 L480.3,426.6 L480.3,328 Z" fill="none" stroke="#000" stroke-width="1.6" stroke-linejoin="miter" stroke-linecap="butt"/>
<path d="M564.9,362.1 L564.9,334.9 L580.8,337.9 L580.8,377.2 L564.9,377.2" fill="none" stroke="#333" stroke-width="0.8" stroke-linejoin="miter" stroke-linecap="butt"/>
<line x1="564.9" y1="362.1" x2="580.8" y2="362.1" stroke="#333" stroke-width="0.8" stroke-linecap="butt"/>
<line x1="564.9" y1="367.4" x2="580.8" y2="367.4" stroke="#6e6e6e" stroke-width="0.7" stroke-linecap="butt"/>
<line x1="564.9" y1="371.9" x2="580.8" y2="371.9" stroke="#6e6e6e" stroke-width="0.7" stroke-linecap="butt"/>
<line x1="555.2" y1="345.9" x2="564.9" y2="345.9" stroke="#6e6e6e" stroke-width="0.7" stroke-linecap="butt"/>
<line x1="555.2" y1="338.3" x2="564.9" y2="338.3" stroke="#6e6e6e" stroke-width="0.7" stroke-linecap="butt"/>
<path d="M564.9,353.9 L563.59,353.81 L562.3,353.54 L561.09,353.09 L559.96,352.49 L558.96,351.73 L558.1,350.85 L557.42,349.86 L556.91,348.79 L556.6,347.66 L556.5,346.5" fill="none" stroke="#6e6e6e" stroke-width="0.6" stroke-linejoin="round" stroke-linecap="butt"/>
<line x1="573.5" y1="371.6" x2="573.5" y2="368.6" stroke="#222" stroke-width="0.6" stroke-linecap="butt"/>
<path d="M573.5,367.2 L572.6,369.2 L574.4,369.2 Z" fill="#222" stroke="#222" stroke-width="0.1" stroke-linejoin="miter" stroke-linecap="butt"/>
<circle cx="503.3" cy="153.2" r="20.7" fill="none" stroke="#1a1a1a" stroke-width="1.2"/>
<path d="M503.3,153.2 L499.46,164.15 M499.46,164.15 L501.42,168.6 M501.42,168.6 L503.09,173.28 M501.42,168.6 L498.23,172.63 M499.46,164.15 L495.81,166.77 M495.81,166.77 L495.39,171.65 M495.81,166.77 L492.11,169.87 M503.3,153.2 L495.03,157.92 M495.03,157.92 L491.07,164.46 M491.07,164.46 L490.12,168.35 M491.07,164.46 L487.56,165.67 M495.03,157.92 L488.67,158.07 M488.67,158.07 L484.86,161.15 M488.67,158.07 L483.67,157.44 M503.3,153.2 L492.56,154.25 M492.56,154.25 L487.53,157.96 M487.53,157.96 L484.89,161.22 M487.53,157.96 L483.69,157.5 M492.56,154.25 L487.67,151.66 M487.67,151.66 L483.23,152.77 M487.67,151.66 L483.7,148.86 M503.3,153.2 L494.01,146.44 M494.01,146.44 L487.49,149.66 M487.49,149.66 L483.39,150.64 M487.49,149.66 L484.31,146.68 M494.01,146.44 L490.41,143.82 M490.41,143.82 L485.71,143.52 M490.41,143.82 L488.58,139.55 M494.01,146.44 L493.94,139.6 M493.94,139.6 L490.22,137.97 M493.94,139.6 L494.18,135.31 M503.3,153.2 L500.14,143.37 M500.14,143.37 L495.96,138.78 M495.96,138.78 L492.07,136.56 M495.96,138.78 L495.66,134.63 M500.14,143.37 L501.42,137.92 M501.42,137.92 L498.55,133.69 M501.42,137.92 L503.33,133.12 M503.3,153.2 L505.81,141.06 M505.81,141.06 L500.89,137.34 M500.89,137.34 L498.22,133.77 M500.89,137.34 L502.8,133.13 M505.81,141.06 L506.44,138.01 M506.44,138.01 L505.6,133.25 M506.44,138.01 L509.66,134.16 M505.81,141.06 L511.57,138.54 M511.57,138.54 L511.53,134.88 M511.57,138.54 L515.04,136.91 M503.3,153.2 L511.21,145.73 M511.21,145.73 L509.13,138.26 M509.13,138.26 L507.99,133.68 M509.13,138.26 L512.33,135.27 M511.21,145.73 L515.18,141.98 M515.18,141.98 L516.67,138.22 M515.18,141.98 L519.08,140.78 M511.21,145.73 L518.52,147.83 M518.52,147.83 L521.17,144.05 M518.52,147.83 L522.83,148.54 M503.3,153.2 L513.3,149.31 M513.3,149.31 L515,140.85 M515,140.85 L515.09,136.95 M515,140.85 L518.35,139.91 M513.3,149.31 L518.27,147.37 M518.27,147.37 L520.89,143.52 M518.27,147.37 L522.83,148.54 M513.3,149.31 L518.97,152.46 M518.97,152.46 L523.2,150.53 M518.97,152.46 L523.36,153.99 M503.3,153.2 L514.13,156.72 M514.13,156.72 L518.91,152.72 M518.91,152.72 L523.19,150.44 M518.91,152.72 L523.31,154.85 M514.13,156.72 L518.11,158.02 M518.11,158.02 L523.04,156.88 M518.11,158.02 L521.37,161.95 M514.13,156.72 L515.97,164.3 M515.97,164.3 L519.67,164.83 M515.97,164.3 L516.55,168.29 M503.3,153.2 L509.09,163.38 M509.09,163.38 L515.74,163.47 M515.74,163.47 L520.02,164.31 M515.74,163.47 L517.46,167.44 M509.09,163.38 L511.88,168.29 M511.88,168.29 L514.93,169.57 M511.88,168.29 L511.84,171.37 M509.09,163.38 L505.17,168.62 M505.17,168.62 L507.89,172.75 M505.17,168.62 L503.56,173.28 M503.3,153.2 L502.69,164.66 M502.69,164.66 L506.05,169.56 M506.05,169.56 L508.21,172.67 M506.05,169.56 L504.88,173.22 M502.69,164.66 L499.62,168.84 M499.62,168.84 L500.25,173.05 M499.62,168.84 L496.22,171.99 " fill="none" stroke="#1a1a1a" stroke-width="0.8" stroke-linecap="round"/>
<circle cx="537.9" cy="146.1" r="9.3" fill="none" stroke="#626262" stroke-width="1.1"/>
<path d="M537.9,146.1 L538.19,150.86 M538.19,150.86 L540.99,152.32 M540.99,152.32 L542.47,153.88 M540.99,152.32 L540.84,154.63 M538.19,150.86 L538.33,153.19 M538.33,153.19 L539.69,154.94 M538.33,153.19 L537.52,155.11 M538.19,150.86 L535.23,152.92 M535.23,152.92 L535.59,154.82 M535.23,152.92 L533.94,154.21 M537.9,146.1 L535.26,150.99 M535.26,150.99 L537.32,153.58 M537.32,153.58 L537.88,155.12 M537.32,153.58 L536.11,154.94 M535.26,150.99 L534.49,152.4 M534.49,152.4 L534.19,154.32 M534.49,152.4 L532.61,153.41 M535.26,150.99 L532.12,150.96 M532.12,150.96 L531.82,152.76 M532.12,150.96 L530.35,151.04 M537.9,146.1 L533.57,148.18 M533.57,148.18 L533.56,151.6 M533.56,151.6 L533.01,153.68 M533.56,151.6 L531.81,152.76 M533.57,148.18 L531.48,149.19 M531.48,149.19 L530.28,150.93 M531.48,149.19 L529.35,148.97 M533.57,148.18 L530.63,146.18 M530.63,146.18 L528.97,147.36 M530.63,146.18 L528.92,145.21 M537.9,146.1 L533.08,146.41 M533.08,146.41 L530.69,148.22 M530.69,148.22 L529.67,149.79 M530.69,148.22 L528.99,147.51 M533.08,146.41 L530.5,144.87 M530.5,144.87 L528.91,145.35 M530.5,144.87 L529.27,143.47 M537.9,146.1 L533.31,142.86 M533.31,142.86 L531.4,143.3 M531.4,143.3 L529.23,143.61 M531.4,143.3 L530.06,141.64 M533.31,142.86 L533,141.18 M533,141.18 L530.76,140.59 M533,141.18 L532.48,138.89 M537.9,146.1 L534.19,142.1 M534.19,142.1 L531.49,143.55 M531.49,143.55 L529.23,143.61 M531.49,143.55 L529.89,141.95 M534.19,142.1 L532.84,140.64 M532.84,140.64 L531,140.29 M532.84,140.64 L532.43,138.93 M534.19,142.1 L535.33,139.16 M535.33,139.16 L533.66,138.14 M535.33,139.16 L535.54,137.39 M537.9,146.1 L537.18,141.92 M537.18,141.92 L535.51,139.06 M535.51,139.06 L534.39,137.79 M535.51,139.06 L535.72,137.35 M537.18,141.92 L537.98,138.65 M537.98,138.65 L537.27,137.1 M537.98,138.65 L538.66,137.11 M537.9,146.1 L540.46,142.18 M540.46,142.18 L540.43,139.32 M540.43,139.32 L540.18,137.37 M540.43,139.32 L541.94,138.03 M540.46,142.18 L543.14,140.82 M543.14,140.82 L543.52,139.04 M543.14,140.82 L544.94,140.45 M537.9,146.1 L542.41,143.97 M542.41,143.97 L542.92,140.47 M542.92,140.47 L542.94,138.62 M542.92,140.47 L544.55,140 M542.41,143.97 L544.38,143.04 M544.38,143.04 L545.66,141.5 M544.38,143.04 L546.47,143.3 M542.41,143.97 L545.07,146.22 M545.07,146.22 L546.89,145.38 M545.07,146.22 L546.85,147.25 M537.9,146.1 L542.97,145.03 M542.97,145.03 L544.17,141.96 M544.17,141.96 L544.93,140.44 M544.17,141.96 L545.97,142.07 M542.97,145.03 L544.65,144.67 M544.65,144.67 L546.56,143.58 M544.65,144.67 L546.88,145.28 M542.97,145.03 L544.8,147.83 M544.8,147.83 L546.83,147.39 M544.8,147.83 L546.35,149.25 M537.9,146.1 L542.32,147.88 M542.32,147.88 L545.56,145.8 M545.56,145.8 L546.85,144.95 M545.56,145.8 L546.89,146.88 M542.32,147.88 L544.99,148.95 M544.99,148.95 L546.65,148.28 M544.99,148.95 L545.82,150.43 M542.32,147.88 L543.5,150.85 M543.5,150.85 L545.41,151.1 M543.5,150.85 L544.23,152.52 M537.9,146.1 L541.13,150.25 M541.13,150.25 L543.15,151 M543.15,151 L545.04,151.61 M543.15,151 L543.65,153.05 M541.13,150.25 L541.42,152.92 M541.42,152.92 L542.68,153.75 M541.42,152.92 L541.27,154.47 " fill="none" stroke="#626262" stroke-width="0.6" stroke-linecap="round"/>
<circle cx="505.9" cy="93.6" r="7" fill="none" stroke="#626262" stroke-width="1.2"/>
<path d="M505.9,93.6 L502.4,92.03 M502.4,92.03 L499.33,91.89 M502.4,92.03 L500.44,89.57 M505.9,93.6 L504.24,90.04 M504.24,90.04 L502.07,87.99 M504.24,90.04 L504.26,87.01 M505.9,93.6 L505.75,90.16 M505.75,90.16 L504.09,87.06 M505.75,90.16 L507.16,86.93 M505.9,93.6 L507.62,89.8 M507.62,89.8 L507.43,86.98 M507.62,89.8 L509.77,88.02 M505.9,93.6 L509.39,91.75 M509.39,91.75 L511.2,89.36 M509.39,91.75 L512.42,91.7 M505.9,93.6 L509.13,94.32 M509.13,94.32 L512.69,93.65 M509.13,94.32 L512.02,96.54 M505.9,93.6 L508.31,96.64 M508.31,96.64 L510.88,98.22 M508.31,96.64 L509.27,99.5 M505.9,93.6 L507.56,97.53 M507.56,97.53 L509.58,99.3 M507.56,97.53 L507.38,100.23 M505.9,93.6 L504.38,96.78 M504.38,96.78 L504.2,100.17 M504.38,96.78 L501.89,99.08 M505.9,93.6 L503.37,96.49 M503.37,96.49 L502.64,99.56 M503.37,96.49 L500.66,97.92 M505.9,93.6 L502.35,94.41 M502.35,94.41 L499.59,96.1 M502.35,94.41 L499.11,93.83 " fill="none" stroke="#626262" stroke-width="0.65" stroke-linecap="round"/>
<circle cx="528.7" cy="93.6" r="7" fill="none" stroke="#626262" stroke-width="1.2"/>
<path d="M528.7,93.6 L524.61,94.77 M524.61,94.77 L522.64,96.65 M524.61,94.77 L521.94,94.2 M528.7,93.6 L525.48,92.6 M525.48,92.6 L521.95,92.85 M525.48,92.6 L522.75,90.33 M528.7,93.6 L526.8,90.95 M526.8,90.95 L523.84,88.86 M526.8,90.95 L525.65,87.53 M528.7,93.6 L528.52,89.63 M528.52,89.63 L527.35,86.94 M528.52,89.63 L529.93,86.92 M528.7,93.6 L530.85,90.32 M530.85,90.32 L531.23,87.3 M530.85,90.32 L533.29,88.6 M528.7,93.6 L531.44,90.99 M531.44,90.99 L532.84,88.22 M531.44,90.99 L534.32,89.79 M528.7,93.6 L531.87,93.26 M531.87,93.26 L535.2,91.63 M531.87,93.26 L535.47,94.12 M528.7,93.6 L531.63,95.97 M531.63,95.97 L534.73,96.72 M531.63,95.97 L533.08,98.79 M528.7,93.6 L530.09,97.02 M530.09,97.02 L532.29,99.36 M530.09,97.02 L529.75,100.31 M528.7,93.6 L527.45,97.56 M527.45,97.56 L528.03,100.36 M527.45,97.56 L525.56,99.62 M528.7,93.6 L526.72,96.48 M526.72,96.48 L525.77,99.73 M526.72,96.48 L523.77,98.27 " fill="none" stroke="#626262" stroke-width="0.65" stroke-linecap="round"/>
<circle cx="557.8" cy="87.7" r="7" fill="none" stroke="#626262" stroke-width="1.2"/>
<path d="M557.8,87.7 L553.88,88.11 M553.88,88.11 L551.25,89.48 M553.88,88.11 L551.02,87.39 M557.8,87.7 L554.55,86.46 M554.55,86.46 L551.09,86.69 M554.55,86.46 L552.08,84.04 M557.8,87.7 L555.8,84.45 M555.8,84.45 L553.14,82.76 M555.8,84.45 L555.21,81.42 M557.8,87.7 L557.67,84.36 M557.67,84.36 L556.04,81.14 M557.67,84.36 L558.58,80.95 M557.8,87.7 L559.8,85.16 M559.8,85.16 L560.83,81.62 M559.8,85.16 L562.88,83.19 M557.8,87.7 L561.48,85.78 M561.48,85.78 L563.28,83.68 M561.48,85.78 L564.23,85.52 M557.8,87.7 L561.42,88.72 M561.42,88.72 L564.54,88.49 M561.42,88.72 L563.75,90.97 M557.8,87.7 L559.95,90.18 M559.95,90.18 L563.11,91.93 M559.95,90.18 L561.37,93.48 M557.8,87.7 L559.21,91.32 M559.21,91.32 L561.26,93.54 M559.21,91.32 L558.92,94.4 M557.8,87.7 L557.45,91.04 M557.45,91.04 L558.54,94.45 M557.45,91.04 L555.87,94.21 M557.8,87.7 L555.01,90.36 M555.01,90.36 L553.85,93.22 M555.01,90.36 L552.12,91.43 " fill="none" stroke="#626262" stroke-width="0.65" stroke-linecap="round"/>
<circle cx="454.6" cy="149" r="5.6" fill="none" stroke="#626262" stroke-width="1.2"/>
<path d="M454.6,149 L457.41,147.36 M457.41,147.36 L458.57,145.29 M457.41,147.36 L459.69,147.1 M454.6,149 L457.94,149.51 M457.94,149.51 L460.02,148.63 M457.94,149.51 L459.71,150.85 M454.6,149 L456.86,150.83 M456.86,150.83 L459.49,151.37 M456.86,150.83 L458.23,153.04 M454.6,149 L455.07,152.39 M455.07,152.39 L456.33,154.15 M455.07,152.39 L454.44,154.43 M454.6,149 L452.8,151.87 M452.8,151.87 L452.57,154.04 M452.8,151.87 L450.92,153 M454.6,149 L451.38,149.66 M451.38,149.66 L449.58,151.07 M451.38,149.66 L449.17,149.24 M454.6,149 L452.33,147.83 M452.33,147.83 L449.44,147.29 M452.33,147.83 L450.25,145.74 M454.6,149 L453.64,146.38 M453.64,146.38 L451.73,144.39 M453.64,146.38 L453.58,143.66 M454.6,149 L454.95,146.48 M454.95,146.48 L454.24,143.58 M454.95,146.48 L456.5,143.91 " fill="none" stroke="#626262" stroke-width="0.65" stroke-linecap="round"/>
<circle cx="454.6" cy="177.7" r="5.6" fill="none" stroke="#626262" stroke-width="1.2"/>
<path d="M454.6,177.7 L456.01,180.49 M456.01,180.49 L457.91,182.01 M456.01,180.49 L456.2,182.89 M454.6,177.7 L453.73,180.87 M453.73,180.87 L454.18,183.12 M453.73,180.87 L452.19,182.57 M454.6,177.7 L452.85,179.52 M452.85,179.52 L451.59,182.22 M452.85,179.52 L450.14,180.8 M454.6,177.7 L451.37,178.24 M451.37,178.24 L449.47,179.49 M451.37,178.24 L449.17,177.69 M454.6,177.7 L451.59,175.97 M451.59,175.97 L449.43,176.03 M451.59,175.97 L450.6,174.03 M454.6,177.7 L454.23,175.17 M454.23,175.17 L452.89,172.54 M454.23,175.17 L454.85,172.27 M454.6,177.7 L455.85,174.51 M455.85,174.51 L455.65,172.37 M455.85,174.51 L457.38,173.03 M454.6,177.7 L457.16,177.06 M457.16,177.06 L459.44,175.24 M457.16,177.06 L460.02,177.38 M454.6,177.7 L457.27,178.69 M457.27,178.69 L459.96,178.61 M457.27,178.69 L459.31,180.41 " fill="none" stroke="#626262" stroke-width="0.65" stroke-linecap="round"/>
<circle cx="454.6" cy="205.8" r="5.6" fill="none" stroke="#626262" stroke-width="1.2"/>
<path d="M454.6,205.8 L456.95,204.82 M456.95,204.82 L459.01,202.62 M456.95,204.82 L459.89,204.56 M454.6,205.8 L457.6,206.72 M457.6,206.72 L459.99,206.44 M457.6,206.72 L459.32,208.49 M454.6,205.8 L456.36,208.75 M456.36,208.75 L458.15,209.91 M456.36,208.75 L456.4,210.92 M454.6,205.8 L453.33,208.7 M453.33,208.7 L453.58,211.13 M453.33,208.7 L451.44,210.22 M454.6,205.8 L452.21,208.16 M452.21,208.16 L451.55,210.29 M452.21,208.16 L450.12,208.88 M454.6,205.8 L451.27,205.89 M451.27,205.89 L449.3,207.01 M451.27,205.89 L449.27,204.74 M454.6,205.8 L452.41,203.15 M452.41,203.15 L450.39,202.36 M452.41,203.15 L452.07,200.99 M454.6,205.8 L454.46,203.04 M454.46,203.04 L453.11,200.58 M454.46,203.04 L455.27,200.41 M454.6,205.8 L456.83,203.2 M456.83,203.2 L457.23,201.05 M456.83,203.2 L458.75,202.3 " fill="none" stroke="#626262" stroke-width="0.65" stroke-linecap="round"/>
<circle cx="454.6" cy="235" r="5.6" fill="none" stroke="#626262" stroke-width="1.2"/>
<path d="M454.6,235 L457.81,233.96 M457.81,233.96 L459.44,232.54 M457.81,233.96 L460,234.37 M454.6,235 L457.57,235.59 M457.57,235.59 L460.03,235.19 M457.57,235.59 L459.68,236.92 M454.6,235 L456.29,237.14 M456.29,237.14 L458.7,238.56 M456.29,237.14 L457.29,239.72 M454.6,235 L454.92,238.18 M454.92,238.18 L456.12,240.21 M454.92,238.18 L454.11,240.41 M454.6,235 L452.49,236.93 M452.49,236.93 L451.2,239.24 M452.49,236.93 L449.91,237.73 M454.6,235 L451.47,235.29 M451.47,235.29 L449.4,236.57 M451.47,235.29 L449.22,234.28 M454.6,235 L451.79,233.38 M451.79,233.38 L449.48,233.17 M451.79,233.38 L450.51,231.42 M454.6,235 L453.92,232.26 M453.92,232.26 L452.49,230 M453.92,232.26 L454.3,229.58 M454.6,235 L456.01,232.26 M456.01,232.26 L456.15,229.8 M456.01,232.26 L458,230.77 " fill="none" stroke="#626262" stroke-width="0.65" stroke-linecap="round"/>
<circle cx="454.6" cy="259.8" r="5.6" fill="none" stroke="#626262" stroke-width="1.2"/>
<path d="M454.6,259.8 L454.29,257.12 M454.29,257.12 L452.76,254.69 M454.29,257.12 L454.87,254.37 M454.6,259.8 L455.9,257.54 M455.9,257.54 L456.26,254.63 M455.9,257.54 L458.03,255.59 M454.6,259.8 L457.63,258.73 M457.63,258.73 L459.23,256.96 M457.63,258.73 L459.97,258.97 M454.6,259.8 L457.76,261.2 M457.76,261.2 L459.85,261.18 M457.76,261.2 L459.06,262.9 M454.6,259.8 L455.92,262.74 M455.92,262.74 L457.71,264.26 M455.92,262.74 L455.94,265.06 M454.6,259.8 L453.9,262.3 M453.9,262.3 L454.26,265.22 M453.9,262.3 L452.04,264.59 M454.6,259.8 L452.81,261.99 M452.81,261.99 L451.95,264.54 M452.81,261.99 L450.42,263.27 M454.6,259.8 L451.25,260.18 M451.25,260.18 L449.47,261.59 M451.25,260.18 L449.18,259.46 M454.6,259.8 L452.75,257.99 M452.75,257.99 L450.17,256.65 M452.75,257.99 L451.57,255.29 " fill="none" stroke="#626262" stroke-width="0.65" stroke-linecap="round"/>
<circle cx="454.6" cy="293" r="5.6" fill="none" stroke="#626262" stroke-width="1.2"/>
<path d="M454.6,293 L451.9,294.93 M451.9,294.93 L450.77,296.85 M451.9,294.93 L449.6,295.12 M454.6,293 L452.04,293.07 M452.04,293.07 L449.34,294.36 M452.04,293.07 L449.22,292.22 M454.6,293 L452.11,291.47 M452.11,291.47 L449.51,291.11 M452.11,291.47 L450.49,289.45 M454.6,293 L454,289.74 M454,289.74 L452.61,287.94 M454,289.74 L454.76,287.57 M454.6,293 L456.16,290.09 M456.16,290.09 L456.35,287.86 M456.16,290.09 L457.98,288.75 M454.6,293 L456.97,291.89 M456.97,291.89 L458.88,289.65 M456.97,291.89 L459.88,291.73 M454.6,293 L457.65,293.39 M457.65,293.39 L460.02,292.7 M457.65,293.39 L459.8,294.57 M454.6,293 L456.55,295.22 M456.55,295.22 L458.78,296.47 M456.55,295.22 L457.33,297.7 M454.6,293 L454.33,295.63 M454.33,295.63 L455.23,298.4 M454.33,295.63 L453.22,298.25 " fill="none" stroke="#626262" stroke-width="0.65" stroke-linecap="round"/>
<circle cx="500" cy="227.4" r="6.4" fill="none" stroke="#626262" stroke-width="1.2"/>
<path d="M500,227.4 L497.11,227.76 M497.11,227.76 L494.07,229.22 M497.11,227.76 L493.82,226.77 M500,227.4 L497.25,226.15 M497.25,226.15 L493.98,225.88 M497.25,226.15 L495.04,223.66 M500,227.4 L498.36,224.99 M498.36,224.99 L495.47,223.16 M498.36,224.99 L497.37,221.77 M500,227.4 L500.37,223.86 M500.37,223.86 L499.48,221.21 M500.37,223.86 L502.01,221.53 M500,227.4 L501.89,224.41 M501.89,224.41 L502.45,221.7 M501.89,224.41 L504.42,223.04 M500,227.4 L503.18,226.09 M503.18,226.09 L505.1,223.86 M503.18,226.09 L506.12,226.36 M500,227.4 L503.74,228.24 M503.74,228.24 L506.21,227.43 M503.74,228.24 L505.72,229.8 M500,227.4 L501.45,230.17 M501.45,230.17 L503.74,232.36 M501.45,230.17 L501.95,233.29 M500,227.4 L500.06,231.18 M500.06,231.18 L501.25,233.48 M500.06,231.18 L498.69,233.47 M500,227.4 L497.72,229.51 M497.72,229.51 L496.3,232.39 M497.72,229.51 L494.85,230.87 " fill="none" stroke="#626262" stroke-width="0.65" stroke-linecap="round"/>
<circle cx="543.4" cy="227.4" r="6.4" fill="none" stroke="#626262" stroke-width="1.2"/>
<path d="M543.4,227.4 L541.37,229.69 M541.37,229.69 L540.41,232.84 M541.37,229.69 L538.46,231.15 M543.4,227.4 L539.92,227.58 M539.92,227.58 L537.36,228.83 M539.92,227.58 L537.27,226.43 M543.4,227.4 L540.19,225.5 M540.19,225.5 L537.53,225.37 M540.19,225.5 L538.87,223.16 M543.4,227.4 L542.06,224.66 M542.06,224.66 L539.8,222.34 M542.06,224.66 L541.87,221.38 M543.4,227.4 L543.67,223.82 M543.67,223.82 L542.62,221.24 M543.67,223.82 L544.81,221.35 M543.4,227.4 L545.73,225.64 M545.73,225.64 L547.42,222.67 M545.73,225.64 L549.05,224.82 M543.4,227.4 L546.98,226.59 M546.98,226.59 L549.04,224.8 M546.98,226.59 L549.6,227.01 M543.4,227.4 L545.94,229.02 M545.94,229.02 L549.24,229.51 M545.94,229.02 L547.84,231.74 M543.4,227.4 L544.16,230.24 M544.16,230.24 L546.03,233.02 M544.16,230.24 L543.79,233.6 M543.4,227.4 L542.69,230.4 M542.69,230.4 L543.33,233.61 M542.69,230.4 L540.7,232.99 " fill="none" stroke="#626262" stroke-width="0.65" stroke-linecap="round"/>
<circle cx="520" cy="245.9" r="6.4" fill="none" stroke="#626262" stroke-width="1.2"/>
<path d="M520,245.9 L517.57,243.84 M517.57,243.84 L514.66,242.73 M517.57,243.84 L516.2,240.99 M520,245.9 L519.98,242.05 M519.98,242.05 L519,239.77 M519.98,242.05 L521.1,239.79 M520,245.9 L521.19,243.02 M521.19,243.02 L521.23,239.82 M521.19,243.02 L523.21,240.58 M520,245.9 L523.16,244.21 M523.16,244.21 L524.81,241.97 M523.16,244.21 L525.89,243.93 M520,245.9 L523.62,246.93 M523.62,246.93 L526.16,246.69 M523.62,246.93 L525.47,248.83 M520,245.9 L521.9,248.53 M521.9,248.53 L524.4,250.28 M521.9,248.53 L522.41,251.62 M520,245.9 L520.38,248.86 M520.38,248.86 L521.75,251.86 M520.38,248.86 L519.44,252.08 M520,245.9 L517.89,249.01 M517.89,249.01 L517.65,251.64 M517.89,249.01 L515.59,250.27 M520,245.9 L516.78,246.59 M516.78,246.59 L514.3,248.35 M516.78,246.59 L513.79,245.87 M520,245.9 L516.34,244.81 M516.34,244.81 L513.82,245.33 M516.34,244.81 L514.54,242.95 " fill="none" stroke="#626262" stroke-width="0.65" stroke-linecap="round"/>
<circle cx="540.6" cy="250.2" r="6.4" fill="none" stroke="#626262" stroke-width="1.2"/>
<path d="M540.6,250.2 L543.49,251.13 M543.49,251.13 L546.76,250.98 M543.49,251.13 L546,253.27 M540.6,250.2 L542.49,252.99 M542.49,252.99 L544.99,254.59 M542.49,252.99 L543.26,255.81 M540.6,250.2 L540.92,253.47 M540.92,253.47 L542.52,256.1 M540.92,253.47 L540,256.38 M540.6,250.2 L538.58,252.87 M538.58,252.87 L537.71,255.69 M538.58,252.87 L535.87,254.22 M540.6,250.2 L537.43,251.08 M537.43,251.08 L534.95,252.78 M537.43,251.08 L534.41,250.7 M540.6,250.2 L536.99,249.31 M536.99,249.31 L534.4,249.93 M536.99,249.31 L534.96,247.61 M540.6,250.2 L538.55,247.63 M538.55,247.63 L536.03,246 M538.55,247.63 L537.52,244.81 M540.6,250.2 L540.93,246.42 M540.93,246.42 L540.06,244.02 M540.93,246.42 L542.48,244.28 M540.6,250.2 L542.2,247.67 M542.2,247.67 L542.7,244.36 M542.2,247.67 L544.88,245.7 M540.6,250.2 L544.12,249.37 M544.12,249.37 L546.35,247.85 M544.12,249.37 L546.81,250.01 " fill="none" stroke="#626262" stroke-width="0.65" stroke-linecap="round"/>
<circle cx="490.7" cy="255.2" r="4.4" fill="none" stroke="#626262" stroke-width="1.2"/>
<path d="M490.7,255.2 L488.48,256.6 M488.48,256.6 L487.51,258.03 M488.48,256.6 L486.76,256.83 M490.7,255.2 L488.63,255.12 M488.63,255.12 L486.46,255.67 M488.63,255.12 L486.52,254.34 M490.7,255.2 L489.23,252.91 M489.23,252.91 L487.71,252.16 M489.23,252.91 L489.07,251.25 M490.7,255.2 L491.14,252.74 M491.14,252.74 L490.7,250.93 M491.14,252.74 L492.09,251.16 M490.7,255.2 L492.9,254.13 M492.9,254.13 L494.19,252.75 M492.9,254.13 L494.78,253.95 M490.7,255.2 L493.39,255.37 M493.39,255.37 L494.95,254.79 M493.39,255.37 L494.82,256.31 M490.7,255.2 L491.49,257.04 M491.49,257.04 L493.07,258.75 M491.49,257.04 L491.63,259.37 M490.7,255.2 L489.95,257.19 M489.95,257.19 L489.9,259.39 M489.95,257.19 L488.54,258.88 " fill="none" stroke="#626262" stroke-width="0.65" stroke-linecap="round"/>
<circle cx="485.1" cy="282.6" r="4.4" fill="none" stroke="#626262" stroke-width="1.2"/>
<path d="M485.1,282.6 L484.83,284.62 M484.83,284.62 L485.29,286.86 M484.83,284.62 L483.89,286.69 M485.1,282.6 L483.61,284.21 M483.61,284.21 L482.74,286.15 M483.61,284.21 L481.7,285.18 M485.1,282.6 L483.14,282.15 M483.14,282.15 L480.83,282.5 M483.14,282.15 L481.14,281 M485.1,282.6 L483.79,280.43 M483.79,280.43 L482.32,279.36 M483.79,280.43 L483.74,278.56 M485.1,282.6 L485.53,280.61 M485.53,280.61 L485.24,278.33 M485.53,280.61 L486.84,278.7 M485.1,282.6 L486.95,281.6 M486.95,281.6 L488.45,279.96 M486.95,281.6 L489.2,281.4 M485.1,282.6 L487.06,283.21 M487.06,283.21 L489.32,283.22 M487.06,283.21 L488.82,284.7 M485.1,282.6 L486.59,284.31 M486.59,284.31 L488.53,285.14 M486.59,284.31 L487.17,286.34 " fill="none" stroke="#626262" stroke-width="0.65" stroke-linecap="round"/>
<circle cx="479.9" cy="309" r="4.1" fill="none" stroke="#626262" stroke-width="1.2"/>
<path d="M479.9,309 L481.56,307.48 M481.56,307.48 L482.18,305.74 M481.56,307.48 L483.24,306.85 M479.9,309 L482.14,309.19 M482.14,309.19 L483.84,308.45 M482.14,309.19 L483.76,309.94 M479.9,309 L481.47,310.35 M481.47,310.35 L483.4,310.89 M481.47,310.35 L482.28,312.18 M479.9,309 L480.03,311.48 M480.03,311.48 L480.86,312.86 M480.03,311.48 L479.2,312.92 M479.9,309 L478.27,310 M478.27,310 L477.06,311.79 M478.27,310 L476.18,310.4 M479.9,309 L477.73,309.09 M477.73,309.09 L476,309.79 M477.73,309.09 L475.98,308.34 M479.9,309 L478.68,307.52 M478.68,307.52 L476.89,306.4 M478.68,307.52 L478,305.51 M479.9,309 L480.27,307 M480.27,307 L479.99,305.02 M480.27,307 L481.3,305.28 " fill="none" stroke="#626262" stroke-width="0.65" stroke-linecap="round"/>
<circle cx="478" cy="324.3" r="3.2" fill="none" stroke="#626262" stroke-width="1.2"/>
<path d="M478,324.3 L477.03,325.68 M477.03,325.68 L476.69,327.11 M477.03,325.68 L475.76,326.45 M478,324.3 L476.6,323.89 M476.6,323.89 L474.91,323.98 M476.6,323.89 L475.19,322.98 M478,324.3 L477.79,322.73 M477.79,322.73 L476.91,321.39 M477.79,322.73 L478.17,321.2 M478,324.3 L479.86,323.75 M479.86,323.75 L480.71,322.79 M479.86,323.75 L481.09,324.02 M478,324.3 L479.13,325.6 M479.13,325.6 L480.42,326.24 M479.13,325.6 L479.46,327.04 " fill="none" stroke="#626262" stroke-width="0.65" stroke-linecap="round"/>
<circle cx="581.1" cy="292.4" r="4.9" fill="none" stroke="#626262" stroke-width="1.2"/>
<path d="M581.1,292.4 L578.34,291.93 M578.34,291.93 L576.35,292.43 M578.34,291.93 L576.71,290.58 M581.1,292.4 L579.51,290.05 M579.51,290.05 L577.83,288.95 M579.51,290.05 L579.39,287.97 M581.1,292.4 L582.07,290.32 M582.07,290.32 L582.2,287.78 M582.07,290.32 L583.79,288.48 M581.1,292.4 L583.68,291.05 M583.68,291.05 L584.9,289.55 M583.68,291.05 L585.62,290.94 M581.1,292.4 L583.33,292.73 M583.33,292.73 L585.85,292.2 M583.33,292.73 L585.63,293.85 M581.1,292.4 L582.71,294.67 M582.71,294.67 L584.48,295.74 M582.71,294.67 L583.13,296.7 M581.1,292.4 L580.4,295.22 M580.4,295.22 L580.76,297.14 M580.4,295.22 L579.06,296.69 M581.1,292.4 L578.56,293.26 M578.56,293.26 L576.93,294.68 M578.56,293.26 L576.41,293.19 " fill="none" stroke="#626262" stroke-width="0.65" stroke-linecap="round"/>
<circle cx="574.6" cy="312" r="4.9" fill="none" stroke="#626262" stroke-width="1.2"/>
<path d="M574.6,312 L576.73,312.87 M576.73,312.87 L579.28,312.84 M576.73,312.87 L578.58,314.6 M574.6,312 L575.73,313.94 M575.73,313.94 L577.79,315.52 M575.73,313.94 L576.3,316.44 M574.6,312 L573.28,314.39 M573.28,314.39 L573.13,316.52 M573.28,314.39 L571.46,315.57 M574.6,312 L572.06,312.87 M572.06,312.87 L570.45,314.32 M572.06,312.87 L569.91,312.75 M574.6,312 L572.15,311.27 M572.15,311.27 L569.88,311.48 M572.15,311.27 L570.43,309.72 M574.6,312 L573.5,309.71 M573.5,309.71 L571.63,308.29 M573.5,309.71 L573.43,307.39 M574.6,312 L575.88,309.53 M575.88,309.53 L575.8,307.4 M575.88,309.53 L577.46,308.2 M574.6,312 L576.78,311.4 M576.78,311.4 L578.9,309.98 M576.78,311.4 L579.34,311.67 " fill="none" stroke="#626262" stroke-width="0.65" stroke-linecap="round"/>
<circle cx="583" cy="326.5" r="4.9" fill="none" stroke="#626262" stroke-width="1.2"/>
<path d="M583,326.5 L580.28,326.78 M580.28,326.78 L578.42,327.77 M580.28,326.78 L578.26,326.09 M583,326.5 L581.65,324.67 M581.65,324.67 L579.56,323.22 M581.65,324.67 L581.02,322.18 M583,326.5 L582.61,324.2 M582.61,324.2 L581.23,322.09 M582.61,324.2 L583.29,321.76 M583,326.5 L584.53,324.7 M584.53,324.7 L585.18,322.27 M584.53,324.7 L586.66,323.47 M583,326.5 L585.71,326.56 M585.71,326.56 L587.68,325.65 M585.71,326.56 L587.61,327.65 M583,326.5 L584.65,328.74 M584.65,328.74 L586.58,329.63 M584.65,328.74 L584.95,330.84 M583,326.5 L582.91,329.06 M582.91,329.06 L583.63,331.21 M582.91,329.06 L582.03,331.15 M583,326.5 L580.78,328.18 M580.78,328.18 L579.71,329.93 M580.78,328.18 L578.67,328.46 " fill="none" stroke="#626262" stroke-width="0.65" stroke-linecap="round"/>
<circle cx="584.6" cy="346" r="3.5" fill="none" stroke="#626262" stroke-width="1.2"/>
<path d="M584.6,346 L584.67,347.67 M584.67,347.67 L585.46,349.28 M584.67,347.67 L584.17,349.37 M584.6,346 L582.59,346.7 M582.59,346.7 L581.65,347.68 M582.59,346.7 L581.23,346.37 M584.6,346 L583.55,344.42 M583.55,344.42 L582.2,343.6 M583.55,344.42 L583.31,342.86 M584.6,346 L585.71,344.14 M585.71,344.14 L585.78,342.82 M585.71,344.14 L586.95,343.55 M584.6,346 L586.07,346.62 M586.07,346.62 L587.91,346.77 M586.07,346.62 L587.43,347.88 " fill="none" stroke="#626262" stroke-width="0.65" stroke-linecap="round"/>
<circle cx="584.6" cy="366.7" r="3.5" fill="none" stroke="#626262" stroke-width="1.2"/>
<path d="M584.6,366.7 L586.52,366.11 M586.52,366.11 L587.6,365.11 M586.52,366.11 L587.99,366.45 M584.6,366.7 L585.59,368.58 M585.59,368.58 L586.65,369.4 M585.59,368.58 L585.46,369.98 M584.6,366.7 L583.43,367.91 M583.43,367.91 L582.7,369.51 M583.43,367.91 L581.79,368.61 M584.6,366.7 L582.89,366.13 M582.89,366.13 L581.25,366.12 M582.89,366.13 L581.58,365.14 M584.6,366.7 L584.7,364.99 M584.7,364.99 L584.21,363.33 M584.7,364.99 L585.5,363.43 " fill="none" stroke="#626262" stroke-width="0.65" stroke-linecap="round"/>
<circle cx="476.1" cy="420.3" r="2.7" fill="none" stroke="#626262" stroke-width="1.2"/>
<path d="M476.1,420.3 L475.19,419.21 M475.19,419.21 L474.04,418.68 M475.19,419.21 L474.91,417.97 M476.1,420.3 L476.74,418.89 M476.74,418.89 L476.67,417.74 M476.74,418.89 L477.68,418.21 M476.1,420.3 L477.39,420.22 M477.39,420.22 L478.61,419.55 M477.39,420.22 L478.69,420.69 M476.1,420.3 L476.55,421.79 M476.55,421.79 L477.26,422.65 M476.55,421.79 L476.4,422.9 M476.1,420.3 L474.97,420.98 M474.97,420.98 L474.11,422 M474.97,420.98 L473.64,421.21 " fill="none" stroke="#626262" stroke-width="0.65" stroke-linecap="round"/>
<circle cx="568.3" cy="415.6" r="2.8" fill="none" stroke="#626262" stroke-width="1.2"/>
<path d="M568.3,415.6 L569.49,414.65 M569.49,414.65 L570.06,413.53 M569.49,414.65 L570.75,414.42 M568.3,415.6 L569.46,416.51 M569.46,416.51 L570.72,416.83 M569.46,416.51 L570.1,417.64 M568.3,415.6 L567.43,417.03 M567.43,417.03 L567.4,418.16 M567.43,417.03 L566.55,417.68 M568.3,415.6 L566.83,415.21 M566.83,415.21 L565.59,415.43 M566.83,415.21 L565.86,414.41 M568.3,415.6 L567.92,413.94 M567.92,413.94 L567.25,413.1 M567.92,413.94 L568.13,412.89 " fill="none" stroke="#626262" stroke-width="0.65" stroke-linecap="round"/>
<circle cx="547.7" cy="431.5" r="2.8" fill="none" stroke="#626262" stroke-width="1.2"/>
<path d="M547.7,431.5 L548.69,432.39 M548.69,432.39 L550.06,432.85 M548.69,432.39 L549.29,433.7 M547.7,431.5 L547.23,432.82 M547.23,432.82 L547.26,434.18 M547.23,432.82 L546.28,433.82 M547.7,431.5 L546.13,431.33 M546.13,431.33 L544.99,431.73 M546.13,431.33 L545.1,430.73 M547.7,431.5 L547.06,430.03 M547.06,430.03 L546.18,429.25 M547.06,430.03 L547.12,428.85 M547.7,431.5 L548.95,430.57 M548.95,430.57 L549.6,429.56 M548.95,430.57 L550.12,430.26 " fill="none" stroke="#626262" stroke-width="0.65" stroke-linecap="round"/>
<circle cx="487.2" cy="435.7" r="5.2" fill="none" stroke="#626262" stroke-width="1.2"/>
<path d="M487.2,435.7 L489.91,435.16 M489.91,435.16 L491.87,433.79 M489.91,435.16 L492.24,435.78 M487.2,435.7 L489.2,437.54 M489.2,437.54 L491.43,438.45 M489.2,437.54 L490.24,439.73 M487.2,435.7 L488.26,438.41 M488.26,438.41 L490.06,439.86 M488.26,438.41 L488.23,440.64 M487.2,435.7 L485.65,437.69 M485.65,437.69 L485.06,440.27 M485.65,437.69 L483.39,439.01 M487.2,435.7 L484.91,436.31 M484.91,436.31 L482.6,437.76 M484.91,436.31 L482.16,435.88 M487.2,435.7 L484.61,434.43 M484.61,434.43 L482.33,434.4 M484.61,434.43 L483.16,432.68 M487.2,435.7 L486.86,433.27 M486.86,433.27 L485.5,430.95 M486.86,433.27 L487.27,430.66 M487.2,435.7 L488.52,433.08 M488.52,433.08 L488.69,430.88 M488.52,433.08 L490.16,431.61 " fill="none" stroke="#626262" stroke-width="0.65" stroke-linecap="round"/>
<circle cx="504.5" cy="439" r="5.2" fill="none" stroke="#626262" stroke-width="1.2"/>
<path d="M504.5,439 L506.75,439.7 M506.75,439.7 L509.51,439.55 M506.75,439.7 L508.86,441.54 M504.5,439 L506.29,441.65 M506.29,441.65 L508.1,442.53 M506.29,441.65 L506.34,443.7 M504.5,439 L504.22,441.98 M504.22,441.98 L504.99,444.02 M504.22,441.98 L503.04,443.83 M504.5,439 L501.79,440.71 M501.79,440.71 L500.86,442.49 M501.79,440.71 L499.77,440.75 M504.5,439 L501.83,438.08 M501.83,438.08 L499.49,438.41 M501.83,438.08 L500.15,436.44 M504.5,439 L503.33,436.83 M503.33,436.83 L501.29,435.11 M503.33,436.83 L502.85,434.23 M504.5,439 L505.3,436.4 M505.3,436.4 L504.94,433.98 M505.3,436.4 L506.9,434.56 M504.5,439 L506.86,437.5 M506.86,437.5 L508.24,435.62 M506.86,437.5 L509.26,437.33 " fill="none" stroke="#626262" stroke-width="0.65" stroke-linecap="round"/>
<circle cx="523.3" cy="439" r="5.2" fill="none" stroke="#626262" stroke-width="1.2"/>
<path d="M523.3,439 L520.62,437.87 M520.62,437.87 L518.33,438.13 M520.62,437.87 L519.01,436.35 M523.3,439 L522.52,436.46 M522.52,436.46 L521.01,434.51 M522.52,436.46 L522.91,433.97 M523.3,439 L525.2,436.62 M525.2,436.62 L525.67,434.55 M525.2,436.62 L527.23,435.84 M523.3,439 L525.83,437.86 M525.83,437.86 L527.43,436.11 M525.83,437.86 L528.17,437.67 M523.3,439 L525.61,440.34 M525.61,440.34 L528.05,440.71 M525.61,440.34 L527.21,442.18 M523.3,439 L523.84,441.4 M523.84,441.4 L525.13,443.7 M523.84,441.4 L523.3,444.04 M523.3,439 L522.08,441.61 M522.08,441.61 L522.15,443.91 M522.08,441.61 L520.25,443.02 M523.3,439 L520.84,439.32 M520.84,439.32 L518.51,440.57 M520.84,439.32 L518.26,438.85 " fill="none" stroke="#626262" stroke-width="0.65" stroke-linecap="round"/>
<circle cx="454.3" cy="473.7" r="4.7" fill="none" stroke="#626262" stroke-width="1.2"/>
<path d="M454.3,473.7 L454.32,476.57 M454.32,476.57 L455.02,478.2 M454.32,476.57 L453.35,478.16 M454.3,473.7 L452.59,475.73 M452.59,475.73 L451.92,477.59 M452.59,475.73 L450.68,476.48 M454.3,473.7 L451.6,474.27 M451.6,474.27 L450.1,475.47 M451.6,474.27 L449.74,473.68 M454.3,473.7 L452.48,472.15 M452.48,472.15 L450.3,471.51 M452.48,472.15 L451.58,470.04 M454.3,473.7 L454.24,470.86 M454.24,470.86 L453.49,469.21 M454.24,470.86 L455.12,469.21 M454.3,473.7 L455.9,471.97 M455.9,471.97 L456.85,469.92 M455.9,471.97 L458.03,471.07 M454.3,473.7 L457.16,473.3 M457.16,473.3 L458.64,472.31 M457.16,473.3 L458.86,473.78 M454.3,473.7 L456.52,475.39 M456.52,475.39 L458.41,475.68 M456.52,475.39 L457.45,477 " fill="none" stroke="#626262" stroke-width="0.65" stroke-linecap="round"/>
<circle cx="454.3" cy="494.5" r="4.7" fill="none" stroke="#626262" stroke-width="1.2"/>
<path d="M454.3,494.5 L453.41,496.65 M453.41,496.65 L453.5,498.99 M453.41,496.65 L451.81,498.32 M454.3,494.5 L451.79,495.82 M451.79,495.82 L450.8,497.43 M451.79,495.82 L449.9,495.69 M454.3,494.5 L452.24,493.57 M452.24,493.57 L449.87,493.41 M452.24,493.57 L450.51,491.96 M454.3,494.5 L453.64,492.48 M453.64,492.48 L451.99,490.57 M453.64,492.48 L453.6,490 M454.3,494.5 L455.05,491.99 M455.05,491.99 L454.7,489.96 M455.05,491.99 L456.42,490.46 M454.3,494.5 L456.68,493.49 M456.68,493.49 L458.06,491.92 M456.68,493.49 L458.72,493.4 M454.3,494.5 L456.34,495.11 M456.34,495.11 L458.84,494.93 M456.34,495.11 L458.38,496.54 M454.3,494.5 L455.45,496.53 M455.45,496.53 L457.38,497.86 M455.45,496.53 L455.89,498.77 " fill="none" stroke="#626262" stroke-width="0.65" stroke-linecap="round"/>
<circle cx="511.4" cy="488.8" r="12.4" fill="none" stroke="#4a4a4a" stroke-width="0.8"/>
<path d="M511.4,488.8 L506.65,483.31 M506.65,483.31 L503.27,482.75 M503.27,482.75 L501.16,482.49 M503.27,482.75 L502.31,480.93 M506.65,483.31 L506.35,480.59 M506.35,480.59 L503.82,479.46 M506.35,480.59 L506.12,477.99 M511.4,488.8 L509.51,483 M509.51,483 L506.91,480.54 M506.91,480.54 L504.32,479.07 M506.91,480.54 L506.71,477.73 M509.51,483 L510.43,479.59 M510.43,479.59 L508.8,477.06 M510.43,479.59 L511.36,476.77 M511.4,488.8 L513.83,481.57 M513.83,481.57 L512.88,479.47 M512.88,479.47 L511.62,476.77 M512.88,479.47 L514.82,477.27 M513.83,481.57 L516.34,479.69 M516.34,479.69 L515.96,477.67 M516.34,479.69 L518.33,478.97 M511.4,488.8 L517.67,484.58 M517.67,484.58 L518.42,481.28 M518.42,481.28 L518.77,479.3 M518.42,481.28 L520.41,480.83 M517.67,484.58 L519.91,484.9 M519.91,484.9 L521.93,482.99 M519.91,484.9 L522.75,484.81 M511.4,488.8 L516.9,489.79 M516.9,489.79 L520.93,487.54 M520.93,487.54 L523.13,486.14 M520.93,487.54 L523.43,488.65 M516.9,489.79 L521.01,490.54 M521.01,490.54 L523.37,489.96 M521.01,490.54 L523,491.97 M516.9,489.79 L519.77,494.89 M519.77,494.89 L521.75,494.92 M519.77,494.89 L520.38,496.8 M511.4,488.8 L515.96,493.38 M515.96,493.38 L519.88,492.34 M519.88,492.34 L522.81,492.61 M519.88,492.34 L522.08,494.33 M515.96,493.38 L518.04,495.48 M518.04,495.48 L520.87,496.22 M518.04,495.48 L518.66,498.39 M515.96,493.38 L514.53,497.88 M514.53,497.88 L516.38,499.75 M514.53,497.88 L514.09,500.52 M511.4,488.8 L511.82,494.59 M511.82,494.59 L515.91,496.85 M515.91,496.85 L518.65,498.4 M515.91,496.85 L516.46,499.71 M511.82,494.59 L512.12,498.71 M512.12,498.71 L513.88,500.57 M512.12,498.71 L511.15,500.83 M511.82,494.59 L507.79,497.97 M507.79,497.97 L508.04,500.35 M507.79,497.97 L505.98,499.54 M511.4,488.8 L509.48,494.22 M509.48,494.22 L510.14,498.28 M510.14,498.28 L511.06,500.82 M510.14,498.28 L508.39,500.45 M509.48,494.22 L506.67,497.52 M506.67,497.52 L507.14,500.05 M506.67,497.52 L504.92,498.94 M511.4,488.8 L505.59,491.25 M505.59,491.25 L504.46,495.57 M504.46,495.57 L503.43,497.81 M504.46,495.57 L501.74,495.97 M505.59,491.25 L502.38,492.61 M502.38,492.61 L501.01,494.86 M502.38,492.61 L499.99,492.59 M505.59,491.25 L501.05,488.62 M501.05,488.62 L499.43,489.96 M501.05,488.62 L499.49,487.09 M511.4,488.8 L504.9,488.8 M504.9,488.8 L501.82,490.29 M501.82,490.29 L499.7,491.59 M501.82,490.29 L499.37,489.04 M504.9,488.8 L502.2,486.94 M502.2,486.94 L499.42,487.68 M502.2,486.94 L500.05,484.82 " fill="none" stroke="#4a4a4a" stroke-width="0.5" stroke-linecap="round"/>
<circle cx="552.9" cy="488.8" r="12.4" fill="none" stroke="#4a4a4a" stroke-width="0.8"/>
<path d="M552.9,488.8 L555.38,482.68 M555.38,482.68 L553.65,479.47 M553.65,479.47 L552.52,476.78 M553.65,479.47 L555.49,477.06 M555.38,482.68 L556.5,479.93 M556.5,479.93 L556.62,477.36 M556.5,479.93 L558.56,478.19 M555.38,482.68 L559.64,481.07 M559.64,481.07 L559.53,478.76 M559.64,481.07 L561.74,480.64 M552.9,488.8 L557.52,483.86 M557.52,483.86 L556.27,479.46 M556.27,479.46 L556.11,477.21 M556.27,479.46 L558.08,477.95 M557.52,483.86 L559.48,481.77 M559.48,481.77 L560.21,479.25 M559.48,481.77 L561.85,480.77 M557.52,483.86 L562.19,484.8 M562.19,484.8 L563.3,482.76 M562.19,484.8 L564.46,485.46 M552.9,488.8 L558.47,487.73 M558.47,487.73 L562.37,484.73 M562.37,484.73 L563.4,482.93 M562.37,484.73 L564.47,485.51 M558.47,487.73 L562.79,488.57 M562.79,488.57 L564.77,486.86 M562.79,488.57 L564.86,490.11 M552.9,488.8 L559.16,492.95 M559.16,492.95 L562.32,491.17 M562.32,491.17 L564.79,490.61 M562.32,491.17 L564.3,492.63 M559.16,492.95 L561.25,494.33 M561.25,494.33 L563.45,494.58 M561.25,494.33 L562.12,496.53 M559.16,492.95 L558.93,496.86 M558.93,496.86 L561,497.69 M558.93,496.86 L559.26,499.01 M552.9,488.8 L555.23,495.76 M555.23,495.76 L557.31,497.09 M557.31,497.09 L559.73,498.7 M557.31,497.09 L557.36,499.97 M555.23,495.76 L554.09,498.67 M554.09,498.67 L555.48,500.55 M554.09,498.67 L553.05,500.83 M552.9,488.8 L551.55,495.68 M551.55,495.68 L554.01,498.44 M554.01,498.44 L555.72,500.49 M554.01,498.44 L553.1,500.83 M551.55,495.68 L551.07,498.1 M551.07,498.1 L552.23,500.81 M551.07,498.1 L549.04,500.19 M551.55,495.68 L547.09,497.28 M547.09,497.28 L547.14,499.36 M547.09,497.28 L544.89,497.77 M552.9,488.8 L547.27,492.38 M547.27,492.38 L546.68,496.87 M546.68,496.87 L546.92,499.24 M546.68,496.87 L544.79,497.69 M547.27,492.38 L544.68,494.02 M544.68,494.02 L543.6,496.43 M544.68,494.02 L541.96,493.8 M547.27,492.38 L543.4,491.36 M543.4,491.36 L541.6,492.93 M543.4,491.36 L540.98,490.44 M552.9,488.8 L546.34,489.84 M546.34,489.84 L545.09,494.2 M545.09,494.2 L543.73,496.59 M545.09,494.2 L542.2,494.29 M546.34,489.84 L543.51,490.29 M543.51,490.29 L541.28,491.89 M543.51,490.29 L540.89,489.44 M546.34,489.84 L543.39,487.21 M543.39,487.21 L540.91,487.9 M543.39,487.21 L541.38,485.33 M552.9,488.8 L546.85,485.33 M546.85,485.33 L543.45,487.76 M543.45,487.76 L540.87,488.87 M543.45,487.76 L541.24,485.85 M546.85,485.33 L544.77,484.14 M544.77,484.14 L541.79,484.2 M544.77,484.14 L543.18,481.72 M546.85,485.33 L546.62,480.55 M546.62,480.55 L544.85,479.86 M546.62,480.55 L546.74,478.47 M552.9,488.8 L550.6,482.17 M550.6,482.17 L546.31,480.83 M546.31,480.83 L544.1,480.6 M546.31,480.83 L545.94,478.99 M550.6,482.17 L549.51,479.02 M549.51,479.02 L547.71,477.95 M549.51,479.02 L550.11,477.1 M550.6,482.17 L553.83,478.66 M553.83,478.66 L552.75,476.77 M553.83,478.66 L555.23,477 " fill="none" stroke="#4a4a4a" stroke-width="0.5" stroke-linecap="round"/>
<circle cx="380.1" cy="47.25" r="11.2" fill="none" stroke="#000" stroke-width="1.35"/>
<path d="M365.4,43.4 L388,43.1 L383.7,48.8 Z" fill="#000" stroke="#000" stroke-width="0.4" stroke-linejoin="miter" stroke-linecap="butt"/>
<path d="M365.4,43.4 L383.7,48.8 L384.8,55.6 Z" fill="#fff" stroke="#000" stroke-width="0.7" stroke-linejoin="round" stroke-linecap="butt"/>
<text x="570" y="123.9" font-size="16.4" fill="#000" text-anchor="start" font-weight="normal" stroke="#000" stroke-width="0.49" textLength="29.9" lengthAdjust="spacingAndGlyphs">Shed</text>
<text x="559.2" y="168.6" font-size="16.4" fill="#000" text-anchor="start" font-weight="normal" stroke="#000" stroke-width="0.49" textLength="44.18" lengthAdjust="spacingAndGlyphs">Carport</text>
<text x="487.9" y="362.9" font-size="16.8" fill="#000" text-anchor="start" font-weight="normal" stroke="#000" stroke-width="0.5" textLength="61.72" lengthAdjust="spacingAndGlyphs">Residence</text>
<text x="359" y="44.2" font-size="7.2" fill="#000" text-anchor="start" font-weight="normal" stroke="#000" stroke-width="0.22" textLength="4.29" lengthAdjust="spacingAndGlyphs">N</text>
<text x="577.2" y="360" font-size="10.4" fill="#000" text-anchor="start" font-weight="normal" stroke="#000" stroke-width="0.31" textLength="18.98" lengthAdjust="spacingAndGlyphs" transform="rotate(-90 577.2 360)">Porch</text>
</g>
</svg>
</body></html>
